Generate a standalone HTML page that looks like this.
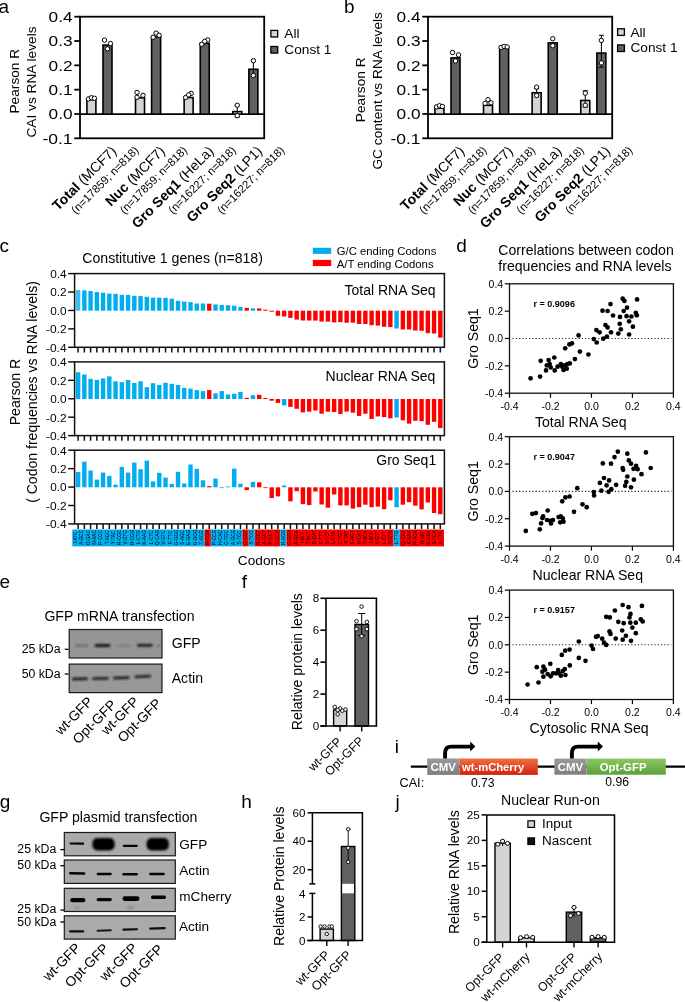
<!DOCTYPE html>
<html><head><meta charset="utf-8"><style>
html,body{margin:0;padding:0;background:#fff;}
svg{display:block;font-family:"Liberation Sans", sans-serif;will-change:transform;}
</style></head><body>
<svg width="685" height="1002" viewBox="0 0 685 1002">
<rect width="685" height="1002" fill="#fff"/>
<text x="-1.50" y="12.90" font-size="19" text-anchor="start" fill="#000">a</text>
<text x="0.00" y="0.00" font-size="13.7" text-anchor="middle" fill="#000" transform="translate(19.00,81.20) rotate(-90)">Pearson R</text>
<text x="0.00" y="0.00" font-size="13.7" text-anchor="middle" fill="#000" transform="translate(35.90,82.00) rotate(-90)">CAI vs RNA levels</text>
<line x1="74.30" y1="16.70" x2="80.00" y2="16.70" stroke="#000" stroke-width="1.8"/>
<text x="72.60" y="22.00" font-size="14.6" text-anchor="end" fill="#000" textLength="24.0" lengthAdjust="spacingAndGlyphs">0.4</text>
<line x1="74.30" y1="41.02" x2="80.00" y2="41.02" stroke="#000" stroke-width="1.8"/>
<text x="72.60" y="46.32" font-size="14.6" text-anchor="end" fill="#000" textLength="24.0" lengthAdjust="spacingAndGlyphs">0.3</text>
<line x1="74.30" y1="65.34" x2="80.00" y2="65.34" stroke="#000" stroke-width="1.8"/>
<text x="72.60" y="70.64" font-size="14.6" text-anchor="end" fill="#000" textLength="24.0" lengthAdjust="spacingAndGlyphs">0.2</text>
<line x1="74.30" y1="89.66" x2="80.00" y2="89.66" stroke="#000" stroke-width="1.8"/>
<text x="72.60" y="94.96" font-size="14.6" text-anchor="end" fill="#000" textLength="24.0" lengthAdjust="spacingAndGlyphs">0.1</text>
<line x1="74.30" y1="113.98" x2="80.00" y2="113.98" stroke="#000" stroke-width="1.8"/>
<text x="72.60" y="119.28" font-size="14.6" text-anchor="end" fill="#000" textLength="24.0" lengthAdjust="spacingAndGlyphs">0.0</text>
<line x1="74.30" y1="138.30" x2="80.00" y2="138.30" stroke="#000" stroke-width="1.8"/>
<text x="72.60" y="143.60" font-size="14.6" text-anchor="end" fill="#000" textLength="30.2" lengthAdjust="spacingAndGlyphs">-0.1</text>
<rect x="80.00" y="16.70" width="184.20" height="121.60" fill="none" stroke="#000" stroke-width="1.8"/>
<line x1="80.00" y1="114.20" x2="264.20" y2="114.20" stroke="#000" stroke-width="1.8"/>
<rect x="86.90" y="99.75" width="9.00" height="14.45" fill="#d4d4d4" stroke="#000" stroke-width="1.6"/>
<circle cx="88.40" cy="98.95" r="2.2" fill="#fff" stroke="#000" stroke-width="1"/>
<circle cx="91.40" cy="97.74" r="2.2" fill="#fff" stroke="#000" stroke-width="1"/>
<circle cx="94.40" cy="98.23" r="2.2" fill="#fff" stroke="#000" stroke-width="1"/>
<rect x="103.00" y="45.06" width="9.00" height="69.14" fill="#616161" stroke="#000" stroke-width="1.6"/>
<circle cx="104.50" cy="40.15" r="2.2" fill="#fff" stroke="#000" stroke-width="1"/>
<circle cx="110.50" cy="43.54" r="2.2" fill="#fff" stroke="#000" stroke-width="1"/>
<circle cx="107.50" cy="48.86" r="2.2" fill="#fff" stroke="#000" stroke-width="1"/>
<rect x="135.52" y="97.82" width="9.00" height="16.38" fill="#d4d4d4" stroke="#000" stroke-width="1.6"/>
<circle cx="137.02" cy="92.42" r="2.2" fill="#fff" stroke="#000" stroke-width="1"/>
<circle cx="137.02" cy="97.26" r="2.2" fill="#fff" stroke="#000" stroke-width="1"/>
<circle cx="143.02" cy="95.32" r="2.2" fill="#fff" stroke="#000" stroke-width="1"/>
<rect x="151.62" y="37.08" width="9.00" height="77.12" fill="#616161" stroke="#000" stroke-width="1.6"/>
<circle cx="153.12" cy="37.24" r="2.2" fill="#fff" stroke="#000" stroke-width="1"/>
<circle cx="156.12" cy="33.13" r="2.2" fill="#fff" stroke="#000" stroke-width="1"/>
<circle cx="159.12" cy="35.31" r="2.2" fill="#fff" stroke="#000" stroke-width="1"/>
<rect x="184.14" y="97.58" width="9.00" height="16.62" fill="#d4d4d4" stroke="#000" stroke-width="1.6"/>
<circle cx="185.64" cy="97.50" r="2.2" fill="#fff" stroke="#000" stroke-width="1"/>
<circle cx="191.14" cy="93.39" r="2.2" fill="#fff" stroke="#000" stroke-width="1"/>
<circle cx="188.64" cy="94.84" r="2.2" fill="#fff" stroke="#000" stroke-width="1"/>
<rect x="200.24" y="43.37" width="9.00" height="70.83" fill="#616161" stroke="#000" stroke-width="1.6"/>
<circle cx="201.74" cy="44.26" r="2.2" fill="#fff" stroke="#000" stroke-width="1"/>
<circle cx="207.74" cy="39.91" r="2.2" fill="#fff" stroke="#000" stroke-width="1"/>
<circle cx="204.74" cy="41.36" r="2.2" fill="#fff" stroke="#000" stroke-width="1"/>
<rect x="232.76" y="111.61" width="9.00" height="2.59" fill="#d4d4d4" stroke="#000" stroke-width="1.6"/>
<line x1="237.26" y1="105.73" x2="237.26" y2="117.10" stroke="#000" stroke-width="1"/>
<line x1="234.76" y1="105.73" x2="239.76" y2="105.73" stroke="#000" stroke-width="1"/>
<line x1="234.76" y1="117.10" x2="239.76" y2="117.10" stroke="#000" stroke-width="1"/>
<circle cx="237.26" cy="105.25" r="2.2" fill="#fff" stroke="#000" stroke-width="1"/>
<circle cx="237.26" cy="115.65" r="2.2" fill="#fff" stroke="#000" stroke-width="1"/>
<rect x="248.86" y="69.26" width="9.00" height="44.94" fill="#616161" stroke="#000" stroke-width="1.6"/>
<line x1="253.36" y1="59.75" x2="253.36" y2="76.69" stroke="#000" stroke-width="1"/>
<line x1="250.86" y1="59.75" x2="255.86" y2="59.75" stroke="#000" stroke-width="1"/>
<line x1="250.86" y1="76.69" x2="255.86" y2="76.69" stroke="#000" stroke-width="1"/>
<circle cx="253.36" cy="60.72" r="2.2" fill="#fff" stroke="#000" stroke-width="1"/>
<circle cx="253.36" cy="75.48" r="2.2" fill="#fff" stroke="#000" stroke-width="1"/>
<rect x="270.90" y="30.40" width="6.80" height="6.60" fill="#d4d4d4" stroke="#000" stroke-width="1.3"/>
<rect x="270.90" y="46.50" width="6.80" height="6.60" fill="#616161" stroke="#000" stroke-width="1.3"/>
<text x="284.30" y="38.20" font-size="13.7" text-anchor="start" fill="#000">All</text>
<text x="284.30" y="53.60" font-size="13.7" text-anchor="start" fill="#000">Const 1</text>
<text x="0.00" y="0.00" font-size="14.0" text-anchor="end" fill="#000" transform="translate(117.30,152.00) rotate(-45)"><tspan font-weight="bold">Total</tspan> (MCF7)</text>
<text x="0.00" y="0.00" font-size="11.3" text-anchor="end" fill="#000" transform="translate(139.30,151.00) rotate(-45)">(n=17859; n=818)</text>
<text x="0.00" y="0.00" font-size="14.0" text-anchor="end" fill="#000" transform="translate(165.92,152.00) rotate(-45)"><tspan font-weight="bold">Nuc</tspan> (MCF7)</text>
<text x="0.00" y="0.00" font-size="11.3" text-anchor="end" fill="#000" transform="translate(187.92,151.00) rotate(-45)">(n=17859; n=818)</text>
<text x="0.00" y="0.00" font-size="14.0" text-anchor="end" fill="#000" transform="translate(214.54,152.00) rotate(-45)"><tspan font-weight="bold">Gro Seq1</tspan> (HeLa)</text>
<text x="0.00" y="0.00" font-size="11.3" text-anchor="end" fill="#000" transform="translate(236.54,151.00) rotate(-45)">(n=16227; n=818)</text>
<text x="0.00" y="0.00" font-size="14.0" text-anchor="end" fill="#000" transform="translate(263.16,152.00) rotate(-45)"><tspan font-weight="bold">Gro Seq2</tspan> (LP1)</text>
<text x="0.00" y="0.00" font-size="11.3" text-anchor="end" fill="#000" transform="translate(285.16,151.00) rotate(-45)">(n=16227; n=818)</text>
<text x="343.90" y="12.60" font-size="19" text-anchor="start" fill="#000">b</text>
<text x="0.00" y="0.00" font-size="13.7" text-anchor="middle" fill="#000" transform="translate(364.80,89.80) rotate(-90)">Pearson R</text>
<text x="0.00" y="0.00" font-size="13.7" text-anchor="middle" fill="#000" transform="translate(382.30,90.80) rotate(-90)">GC content vs RNA levels</text>
<line x1="422.30" y1="16.70" x2="428.00" y2="16.70" stroke="#000" stroke-width="1.8"/>
<text x="420.60" y="22.00" font-size="14.6" text-anchor="end" fill="#000" textLength="24.0" lengthAdjust="spacingAndGlyphs">0.4</text>
<line x1="422.30" y1="41.02" x2="428.00" y2="41.02" stroke="#000" stroke-width="1.8"/>
<text x="420.60" y="46.32" font-size="14.6" text-anchor="end" fill="#000" textLength="24.0" lengthAdjust="spacingAndGlyphs">0.3</text>
<line x1="422.30" y1="65.34" x2="428.00" y2="65.34" stroke="#000" stroke-width="1.8"/>
<text x="420.60" y="70.64" font-size="14.6" text-anchor="end" fill="#000" textLength="24.0" lengthAdjust="spacingAndGlyphs">0.2</text>
<line x1="422.30" y1="89.66" x2="428.00" y2="89.66" stroke="#000" stroke-width="1.8"/>
<text x="420.60" y="94.96" font-size="14.6" text-anchor="end" fill="#000" textLength="24.0" lengthAdjust="spacingAndGlyphs">0.1</text>
<line x1="422.30" y1="113.98" x2="428.00" y2="113.98" stroke="#000" stroke-width="1.8"/>
<text x="420.60" y="119.28" font-size="14.6" text-anchor="end" fill="#000" textLength="24.0" lengthAdjust="spacingAndGlyphs">0.0</text>
<line x1="422.30" y1="138.30" x2="428.00" y2="138.30" stroke="#000" stroke-width="1.8"/>
<text x="420.60" y="143.60" font-size="14.6" text-anchor="end" fill="#000" textLength="30.2" lengthAdjust="spacingAndGlyphs">-0.1</text>
<rect x="428.00" y="16.70" width="184.20" height="121.60" fill="none" stroke="#000" stroke-width="1.8"/>
<line x1="428.00" y1="114.20" x2="612.20" y2="114.20" stroke="#000" stroke-width="1.8"/>
<rect x="434.90" y="108.22" width="9.00" height="5.98" fill="#d4d4d4" stroke="#000" stroke-width="1.6"/>
<circle cx="436.40" cy="106.94" r="2.2" fill="#fff" stroke="#000" stroke-width="1"/>
<circle cx="439.40" cy="105.73" r="2.2" fill="#fff" stroke="#000" stroke-width="1"/>
<circle cx="442.40" cy="106.46" r="2.2" fill="#fff" stroke="#000" stroke-width="1"/>
<rect x="451.00" y="57.89" width="9.00" height="56.31" fill="#616161" stroke="#000" stroke-width="1.6"/>
<circle cx="452.50" cy="52.49" r="2.2" fill="#fff" stroke="#000" stroke-width="1"/>
<circle cx="458.50" cy="54.91" r="2.2" fill="#fff" stroke="#000" stroke-width="1"/>
<circle cx="455.50" cy="60.96" r="2.2" fill="#fff" stroke="#000" stroke-width="1"/>
<rect x="483.52" y="105.32" width="9.00" height="8.88" fill="#d4d4d4" stroke="#000" stroke-width="1.6"/>
<circle cx="485.02" cy="103.31" r="2.2" fill="#fff" stroke="#000" stroke-width="1"/>
<circle cx="488.02" cy="99.68" r="2.2" fill="#fff" stroke="#000" stroke-width="1"/>
<circle cx="491.02" cy="102.83" r="2.2" fill="#fff" stroke="#000" stroke-width="1"/>
<rect x="499.62" y="47.72" width="9.00" height="66.48" fill="#616161" stroke="#000" stroke-width="1.6"/>
<circle cx="501.12" cy="47.41" r="2.2" fill="#fff" stroke="#000" stroke-width="1"/>
<circle cx="504.12" cy="46.44" r="2.2" fill="#fff" stroke="#000" stroke-width="1"/>
<circle cx="507.12" cy="46.92" r="2.2" fill="#fff" stroke="#000" stroke-width="1"/>
<rect x="532.14" y="92.74" width="9.00" height="21.46" fill="#d4d4d4" stroke="#000" stroke-width="1.6"/>
<line x1="536.64" y1="88.79" x2="536.64" y2="95.32" stroke="#000" stroke-width="1"/>
<line x1="534.14" y1="88.79" x2="539.14" y2="88.79" stroke="#000" stroke-width="1"/>
<line x1="534.14" y1="95.32" x2="539.14" y2="95.32" stroke="#000" stroke-width="1"/>
<circle cx="536.64" cy="87.10" r="2.2" fill="#fff" stroke="#000" stroke-width="1"/>
<circle cx="536.64" cy="95.57" r="2.2" fill="#fff" stroke="#000" stroke-width="1"/>
<rect x="548.24" y="42.88" width="9.00" height="71.32" fill="#616161" stroke="#000" stroke-width="1.6"/>
<circle cx="552.74" cy="38.70" r="2.2" fill="#fff" stroke="#000" stroke-width="1"/>
<circle cx="552.74" cy="45.71" r="2.2" fill="#fff" stroke="#000" stroke-width="1"/>
<rect x="580.76" y="100.48" width="9.00" height="13.72" fill="#d4d4d4" stroke="#000" stroke-width="1.6"/>
<line x1="585.26" y1="90.73" x2="585.26" y2="106.94" stroke="#000" stroke-width="1"/>
<line x1="582.76" y1="90.73" x2="587.76" y2="90.73" stroke="#000" stroke-width="1"/>
<line x1="582.76" y1="106.94" x2="587.76" y2="106.94" stroke="#000" stroke-width="1"/>
<circle cx="585.26" cy="93.15" r="2.2" fill="#fff" stroke="#000" stroke-width="1"/>
<circle cx="585.26" cy="105.25" r="2.2" fill="#fff" stroke="#000" stroke-width="1"/>
<rect x="596.86" y="53.05" width="9.00" height="61.15" fill="#616161" stroke="#000" stroke-width="1.6"/>
<line x1="601.36" y1="35.31" x2="601.36" y2="67.25" stroke="#000" stroke-width="1"/>
<line x1="598.86" y1="35.31" x2="603.86" y2="35.31" stroke="#000" stroke-width="1"/>
<line x1="598.86" y1="67.25" x2="603.86" y2="67.25" stroke="#000" stroke-width="1"/>
<circle cx="601.36" cy="40.39" r="2.2" fill="#fff" stroke="#000" stroke-width="1"/>
<circle cx="601.36" cy="62.90" r="2.2" fill="#fff" stroke="#000" stroke-width="1"/>
<rect x="617.60" y="28.80" width="6.80" height="6.60" fill="#d4d4d4" stroke="#000" stroke-width="1.3"/>
<rect x="617.60" y="44.90" width="6.80" height="6.60" fill="#616161" stroke="#000" stroke-width="1.3"/>
<text x="630.40" y="36.60" font-size="13.7" text-anchor="start" fill="#000">All</text>
<text x="630.40" y="52.00" font-size="13.7" text-anchor="start" fill="#000">Const 1</text>
<text x="0.00" y="0.00" font-size="14.0" text-anchor="end" fill="#000" transform="translate(465.30,152.00) rotate(-45)"><tspan font-weight="bold">Total</tspan> (MCF7)</text>
<text x="0.00" y="0.00" font-size="11.3" text-anchor="end" fill="#000" transform="translate(487.30,151.00) rotate(-45)">(n=17859; n=818)</text>
<text x="0.00" y="0.00" font-size="14.0" text-anchor="end" fill="#000" transform="translate(513.92,152.00) rotate(-45)"><tspan font-weight="bold">Nuc</tspan> (MCF7)</text>
<text x="0.00" y="0.00" font-size="11.3" text-anchor="end" fill="#000" transform="translate(535.92,151.00) rotate(-45)">(n=17859; n=818)</text>
<text x="0.00" y="0.00" font-size="14.0" text-anchor="end" fill="#000" transform="translate(562.54,152.00) rotate(-45)"><tspan font-weight="bold">Gro Seq1</tspan> (HeLa)</text>
<text x="0.00" y="0.00" font-size="11.3" text-anchor="end" fill="#000" transform="translate(584.54,151.00) rotate(-45)">(n=16227; n=818)</text>
<text x="0.00" y="0.00" font-size="14.0" text-anchor="end" fill="#000" transform="translate(611.16,152.00) rotate(-45)"><tspan font-weight="bold">Gro Seq2</tspan> (LP1)</text>
<text x="0.00" y="0.00" font-size="11.3" text-anchor="end" fill="#000" transform="translate(633.16,151.00) rotate(-45)">(n=16227; n=818)</text>
<text x="-0.40" y="252.10" font-size="19" text-anchor="start" fill="#000">c</text>
<text x="82.30" y="263.40" font-size="14.1" text-anchor="start" fill="#000">Constitutive 1 genes (n=818)</text>
<rect x="312.80" y="247.80" width="18.40" height="6.10" fill="#00aeef"/>
<rect x="312.80" y="259.90" width="18.40" height="6.20" fill="#ff0000"/>
<text x="336.70" y="255.30" font-size="11.35" text-anchor="start" fill="#000">G/C ending Codons</text>
<text x="336.70" y="268.00" font-size="11.35" text-anchor="start" fill="#000">A/T ending Codons</text>
<line x1="68.20" y1="273.60" x2="74.60" y2="273.60" stroke="#000" stroke-width="1.4"/>
<text x="66.60" y="278.00" font-size="10.2" text-anchor="end" fill="#000" textLength="16.4" lengthAdjust="spacingAndGlyphs">0.4</text>
<line x1="68.20" y1="292.03" x2="74.60" y2="292.03" stroke="#000" stroke-width="1.4"/>
<text x="66.60" y="296.43" font-size="10.2" text-anchor="end" fill="#000" textLength="16.4" lengthAdjust="spacingAndGlyphs">0.2</text>
<line x1="68.20" y1="310.46" x2="74.60" y2="310.46" stroke="#000" stroke-width="1.4"/>
<text x="66.60" y="314.86" font-size="10.2" text-anchor="end" fill="#000" textLength="16.4" lengthAdjust="spacingAndGlyphs">0.0</text>
<line x1="68.20" y1="328.89" x2="74.60" y2="328.89" stroke="#000" stroke-width="1.4"/>
<text x="66.60" y="333.29" font-size="10.2" text-anchor="end" fill="#000" textLength="20.6" lengthAdjust="spacingAndGlyphs">-0.2</text>
<line x1="68.20" y1="347.32" x2="74.60" y2="347.32" stroke="#000" stroke-width="1.4"/>
<text x="66.60" y="351.72" font-size="10.2" text-anchor="end" fill="#000" textLength="20.6" lengthAdjust="spacingAndGlyphs">-0.4</text>
<rect x="75.90" y="290.00" width="4.40" height="20.70" fill="#3dbdf0"/>
<rect x="82.15" y="290.30" width="4.40" height="20.40" fill="#00aeef"/>
<rect x="88.39" y="291.00" width="4.40" height="19.70" fill="#00aeef"/>
<rect x="94.64" y="292.00" width="4.40" height="18.70" fill="#00aeef"/>
<rect x="100.88" y="292.70" width="4.40" height="18.00" fill="#00aeef"/>
<rect x="107.12" y="293.60" width="4.40" height="17.10" fill="#00aeef"/>
<rect x="113.37" y="293.80" width="4.40" height="16.90" fill="#00aeef"/>
<rect x="119.62" y="294.80" width="4.40" height="15.90" fill="#00aeef"/>
<rect x="125.86" y="294.90" width="4.40" height="15.80" fill="#00aeef"/>
<rect x="132.11" y="295.80" width="4.40" height="14.90" fill="#00aeef"/>
<rect x="138.35" y="296.10" width="4.40" height="14.60" fill="#00aeef"/>
<rect x="144.60" y="296.80" width="4.40" height="13.90" fill="#00aeef"/>
<rect x="150.84" y="297.60" width="4.40" height="13.10" fill="#00aeef"/>
<rect x="157.09" y="297.70" width="4.40" height="13.00" fill="#00aeef"/>
<rect x="163.33" y="297.90" width="4.40" height="12.80" fill="#00aeef"/>
<rect x="169.57" y="298.70" width="4.40" height="12.00" fill="#00aeef"/>
<rect x="175.82" y="300.80" width="4.40" height="9.90" fill="#00aeef"/>
<rect x="182.06" y="301.60" width="4.40" height="9.10" fill="#00aeef"/>
<rect x="188.31" y="302.10" width="4.40" height="8.60" fill="#00aeef"/>
<rect x="194.56" y="303.50" width="4.40" height="7.20" fill="#00aeef"/>
<rect x="200.80" y="303.50" width="4.40" height="7.20" fill="#00aeef"/>
<rect x="207.05" y="303.70" width="4.40" height="7.00" fill="#ff0000"/>
<rect x="213.29" y="304.40" width="4.40" height="6.30" fill="#00aeef"/>
<rect x="219.53" y="304.90" width="4.40" height="5.80" fill="#00aeef"/>
<rect x="225.78" y="305.20" width="4.40" height="5.50" fill="#00aeef"/>
<rect x="232.03" y="305.70" width="4.40" height="5.00" fill="#00aeef"/>
<rect x="238.27" y="306.90" width="4.40" height="3.80" fill="#00aeef"/>
<rect x="244.52" y="307.90" width="4.40" height="2.80" fill="#ff0000"/>
<rect x="250.76" y="308.30" width="4.40" height="2.40" fill="#00aeef"/>
<rect x="257.00" y="308.40" width="4.40" height="2.30" fill="#ff0000"/>
<rect x="263.25" y="309.70" width="4.40" height="1.00" fill="#ff0000"/>
<rect x="269.50" y="310.70" width="4.40" height="1.00" fill="#ff0000"/>
<rect x="275.74" y="310.70" width="4.40" height="5.10" fill="#ff0000"/>
<rect x="281.99" y="310.70" width="4.40" height="5.80" fill="#ff0000"/>
<rect x="288.23" y="310.70" width="4.40" height="7.20" fill="#ff0000"/>
<rect x="294.48" y="310.70" width="4.40" height="8.90" fill="#ff0000"/>
<rect x="300.72" y="310.70" width="4.40" height="9.80" fill="#ff0000"/>
<rect x="306.97" y="310.70" width="4.40" height="9.80" fill="#ff0000"/>
<rect x="313.21" y="310.70" width="4.40" height="9.90" fill="#ff0000"/>
<rect x="319.46" y="310.70" width="4.40" height="10.90" fill="#ff0000"/>
<rect x="325.70" y="310.70" width="4.40" height="10.90" fill="#ff0000"/>
<rect x="331.95" y="310.70" width="4.40" height="11.70" fill="#ff0000"/>
<rect x="338.19" y="310.70" width="4.40" height="11.50" fill="#ff0000"/>
<rect x="344.44" y="310.70" width="4.40" height="12.00" fill="#ff0000"/>
<rect x="350.68" y="310.70" width="4.40" height="12.00" fill="#ff0000"/>
<rect x="356.92" y="310.70" width="4.40" height="13.30" fill="#ff0000"/>
<rect x="363.17" y="310.70" width="4.40" height="13.30" fill="#ff0000"/>
<rect x="369.41" y="310.70" width="4.40" height="14.50" fill="#ff0000"/>
<rect x="375.66" y="310.70" width="4.40" height="14.90" fill="#ff0000"/>
<rect x="381.90" y="310.70" width="4.40" height="16.10" fill="#ff0000"/>
<rect x="388.15" y="310.70" width="4.40" height="16.40" fill="#ff0000"/>
<rect x="394.39" y="310.70" width="4.40" height="17.80" fill="#00aeef"/>
<rect x="400.64" y="310.70" width="4.40" height="18.80" fill="#ff0000"/>
<rect x="406.88" y="310.70" width="4.40" height="18.80" fill="#ff0000"/>
<rect x="413.13" y="310.70" width="4.40" height="19.80" fill="#ff0000"/>
<rect x="419.38" y="310.70" width="4.40" height="20.10" fill="#ff0000"/>
<rect x="425.62" y="310.70" width="4.40" height="22.50" fill="#ff0000"/>
<rect x="431.87" y="310.70" width="4.40" height="22.80" fill="#ff0000"/>
<rect x="438.11" y="310.70" width="4.40" height="27.00" fill="#ff0000"/>
<rect x="74.60" y="273.60" width="369.80" height="73.70" fill="none" stroke="#111" stroke-width="1.5"/>
<path d="M78.10 347.30V352.50M84.35 347.30V352.50M90.59 347.30V352.50M96.84 347.30V352.50M103.08 347.30V352.50M109.33 347.30V352.50M115.57 347.30V352.50M121.82 347.30V352.50M128.06 347.30V352.50M134.31 347.30V352.50M140.55 347.30V352.50M146.80 347.30V352.50M153.04 347.30V352.50M159.28 347.30V352.50M165.53 347.30V352.50M171.77 347.30V352.50M178.02 347.30V352.50M184.26 347.30V352.50M190.51 347.30V352.50M196.75 347.30V352.50M203.00 347.30V352.50M209.25 347.30V352.50M215.49 347.30V352.50M221.73 347.30V352.50M227.98 347.30V352.50M234.22 347.30V352.50M240.47 347.30V352.50M246.72 347.30V352.50M252.96 347.30V352.50M259.20 347.30V352.50M265.45 347.30V352.50M271.69 347.30V352.50M277.94 347.30V352.50M284.19 347.30V352.50M290.43 347.30V352.50M296.68 347.30V352.50M302.92 347.30V352.50M309.17 347.30V352.50M315.41 347.30V352.50M321.66 347.30V352.50M327.90 347.30V352.50M334.15 347.30V352.50M340.39 347.30V352.50M346.64 347.30V352.50M352.88 347.30V352.50M359.12 347.30V352.50M365.37 347.30V352.50M371.61 347.30V352.50M377.86 347.30V352.50M384.10 347.30V352.50M390.35 347.30V352.50M396.59 347.30V352.50M402.84 347.30V352.50M409.08 347.30V352.50M415.33 347.30V352.50M421.57 347.30V352.50M427.82 347.30V352.50M434.06 347.30V352.50M440.31 347.30V352.50" stroke="#111" stroke-width="1.5" fill="none"/>
<text x="435.60" y="295.00" font-size="14.0" text-anchor="end" fill="#000">Total RNA Seq</text>
<line x1="68.20" y1="361.90" x2="74.60" y2="361.90" stroke="#000" stroke-width="1.4"/>
<text x="66.60" y="366.30" font-size="10.2" text-anchor="end" fill="#000" textLength="16.4" lengthAdjust="spacingAndGlyphs">0.4</text>
<line x1="68.20" y1="380.33" x2="74.60" y2="380.33" stroke="#000" stroke-width="1.4"/>
<text x="66.60" y="384.73" font-size="10.2" text-anchor="end" fill="#000" textLength="16.4" lengthAdjust="spacingAndGlyphs">0.2</text>
<line x1="68.20" y1="398.76" x2="74.60" y2="398.76" stroke="#000" stroke-width="1.4"/>
<text x="66.60" y="403.16" font-size="10.2" text-anchor="end" fill="#000" textLength="16.4" lengthAdjust="spacingAndGlyphs">0.0</text>
<line x1="68.20" y1="417.19" x2="74.60" y2="417.19" stroke="#000" stroke-width="1.4"/>
<text x="66.60" y="421.59" font-size="10.2" text-anchor="end" fill="#000" textLength="20.6" lengthAdjust="spacingAndGlyphs">-0.2</text>
<line x1="68.20" y1="435.62" x2="74.60" y2="435.62" stroke="#000" stroke-width="1.4"/>
<text x="66.60" y="440.02" font-size="10.2" text-anchor="end" fill="#000" textLength="20.6" lengthAdjust="spacingAndGlyphs">-0.4</text>
<rect x="75.90" y="372.30" width="4.40" height="26.70" fill="#00aeef"/>
<rect x="82.15" y="374.50" width="4.40" height="24.50" fill="#00aeef"/>
<rect x="88.39" y="378.90" width="4.40" height="20.10" fill="#00aeef"/>
<rect x="94.64" y="379.90" width="4.40" height="19.10" fill="#00aeef"/>
<rect x="100.88" y="378.40" width="4.40" height="20.60" fill="#00aeef"/>
<rect x="107.12" y="376.40" width="4.40" height="22.60" fill="#00aeef"/>
<rect x="113.37" y="381.30" width="4.40" height="17.70" fill="#00aeef"/>
<rect x="119.62" y="382.20" width="4.40" height="16.80" fill="#00aeef"/>
<rect x="125.86" y="380.00" width="4.40" height="19.00" fill="#00aeef"/>
<rect x="132.11" y="383.00" width="4.40" height="16.00" fill="#00aeef"/>
<rect x="138.35" y="381.30" width="4.40" height="17.70" fill="#00aeef"/>
<rect x="144.60" y="387.20" width="4.40" height="11.80" fill="#00aeef"/>
<rect x="150.84" y="383.20" width="4.40" height="15.80" fill="#00aeef"/>
<rect x="157.09" y="385.00" width="4.40" height="14.00" fill="#00aeef"/>
<rect x="163.33" y="382.80" width="4.40" height="16.20" fill="#00aeef"/>
<rect x="169.57" y="383.80" width="4.40" height="15.20" fill="#00aeef"/>
<rect x="175.82" y="385.00" width="4.40" height="14.00" fill="#00aeef"/>
<rect x="182.06" y="387.90" width="4.40" height="11.10" fill="#00aeef"/>
<rect x="188.31" y="388.60" width="4.40" height="10.40" fill="#00aeef"/>
<rect x="194.56" y="390.10" width="4.40" height="8.90" fill="#00aeef"/>
<rect x="200.80" y="391.10" width="4.40" height="7.90" fill="#00aeef"/>
<rect x="207.05" y="390.10" width="4.40" height="8.90" fill="#ff0000"/>
<rect x="213.29" y="393.30" width="4.40" height="5.70" fill="#00aeef"/>
<rect x="219.53" y="391.10" width="4.40" height="7.90" fill="#00aeef"/>
<rect x="225.78" y="394.50" width="4.40" height="4.50" fill="#00aeef"/>
<rect x="232.03" y="393.70" width="4.40" height="5.30" fill="#00aeef"/>
<rect x="238.27" y="392.00" width="4.40" height="7.00" fill="#00aeef"/>
<rect x="244.52" y="397.80" width="4.40" height="1.20" fill="#ff0000"/>
<rect x="250.76" y="395.20" width="4.40" height="3.80" fill="#00aeef"/>
<rect x="257.00" y="394.90" width="4.40" height="4.10" fill="#ff0000"/>
<rect x="263.25" y="398.00" width="4.40" height="1.00" fill="#ff0000"/>
<rect x="269.50" y="399.00" width="4.40" height="1.70" fill="#ff0000"/>
<rect x="275.74" y="399.00" width="4.40" height="3.90" fill="#ff0000"/>
<rect x="281.99" y="399.00" width="4.40" height="6.40" fill="#00aeef"/>
<rect x="288.23" y="399.00" width="4.40" height="7.90" fill="#ff0000"/>
<rect x="294.48" y="399.00" width="4.40" height="9.80" fill="#ff0000"/>
<rect x="300.72" y="399.00" width="4.40" height="13.40" fill="#ff0000"/>
<rect x="306.97" y="399.00" width="4.40" height="12.70" fill="#ff0000"/>
<rect x="313.21" y="399.00" width="4.40" height="11.50" fill="#ff0000"/>
<rect x="319.46" y="399.00" width="4.40" height="14.70" fill="#ff0000"/>
<rect x="325.70" y="399.00" width="4.40" height="12.70" fill="#ff0000"/>
<rect x="331.95" y="399.00" width="4.40" height="13.00" fill="#ff0000"/>
<rect x="338.19" y="399.00" width="4.40" height="14.90" fill="#ff0000"/>
<rect x="344.44" y="399.00" width="4.40" height="12.60" fill="#ff0000"/>
<rect x="350.68" y="399.00" width="4.40" height="13.70" fill="#ff0000"/>
<rect x="356.92" y="399.00" width="4.40" height="16.90" fill="#ff0000"/>
<rect x="363.17" y="399.00" width="4.40" height="14.70" fill="#ff0000"/>
<rect x="369.41" y="399.00" width="4.40" height="19.90" fill="#ff0000"/>
<rect x="375.66" y="399.00" width="4.40" height="17.40" fill="#ff0000"/>
<rect x="381.90" y="399.00" width="4.40" height="18.10" fill="#ff0000"/>
<rect x="388.15" y="399.00" width="4.40" height="19.30" fill="#ff0000"/>
<rect x="394.39" y="399.00" width="4.40" height="18.50" fill="#00aeef"/>
<rect x="400.64" y="399.00" width="4.40" height="21.30" fill="#ff0000"/>
<rect x="406.88" y="399.00" width="4.40" height="24.70" fill="#ff0000"/>
<rect x="413.13" y="399.00" width="4.40" height="21.80" fill="#ff0000"/>
<rect x="419.38" y="399.00" width="4.40" height="22.20" fill="#ff0000"/>
<rect x="425.62" y="399.00" width="4.40" height="25.80" fill="#ff0000"/>
<rect x="431.87" y="399.00" width="4.40" height="22.80" fill="#ff0000"/>
<rect x="438.11" y="399.00" width="4.40" height="29.10" fill="#ff0000"/>
<rect x="74.60" y="361.90" width="369.80" height="73.70" fill="none" stroke="#111" stroke-width="1.5"/>
<path d="M78.10 435.60V440.80M84.35 435.60V440.80M90.59 435.60V440.80M96.84 435.60V440.80M103.08 435.60V440.80M109.33 435.60V440.80M115.57 435.60V440.80M121.82 435.60V440.80M128.06 435.60V440.80M134.31 435.60V440.80M140.55 435.60V440.80M146.80 435.60V440.80M153.04 435.60V440.80M159.28 435.60V440.80M165.53 435.60V440.80M171.77 435.60V440.80M178.02 435.60V440.80M184.26 435.60V440.80M190.51 435.60V440.80M196.75 435.60V440.80M203.00 435.60V440.80M209.25 435.60V440.80M215.49 435.60V440.80M221.73 435.60V440.80M227.98 435.60V440.80M234.22 435.60V440.80M240.47 435.60V440.80M246.72 435.60V440.80M252.96 435.60V440.80M259.20 435.60V440.80M265.45 435.60V440.80M271.69 435.60V440.80M277.94 435.60V440.80M284.19 435.60V440.80M290.43 435.60V440.80M296.68 435.60V440.80M302.92 435.60V440.80M309.17 435.60V440.80M315.41 435.60V440.80M321.66 435.60V440.80M327.90 435.60V440.80M334.15 435.60V440.80M340.39 435.60V440.80M346.64 435.60V440.80M352.88 435.60V440.80M359.12 435.60V440.80M365.37 435.60V440.80M371.61 435.60V440.80M377.86 435.60V440.80M384.10 435.60V440.80M390.35 435.60V440.80M396.59 435.60V440.80M402.84 435.60V440.80M409.08 435.60V440.80M415.33 435.60V440.80M421.57 435.60V440.80M427.82 435.60V440.80M434.06 435.60V440.80M440.31 435.60V440.80" stroke="#111" stroke-width="1.5" fill="none"/>
<text x="435.30" y="380.80" font-size="14.0" text-anchor="end" fill="#000">Nuclear RNA Seq</text>
<line x1="68.20" y1="450.20" x2="74.60" y2="450.20" stroke="#000" stroke-width="1.4"/>
<text x="66.60" y="454.60" font-size="10.2" text-anchor="end" fill="#000" textLength="16.4" lengthAdjust="spacingAndGlyphs">0.4</text>
<line x1="68.20" y1="468.63" x2="74.60" y2="468.63" stroke="#000" stroke-width="1.4"/>
<text x="66.60" y="473.03" font-size="10.2" text-anchor="end" fill="#000" textLength="16.4" lengthAdjust="spacingAndGlyphs">0.2</text>
<line x1="68.20" y1="487.06" x2="74.60" y2="487.06" stroke="#000" stroke-width="1.4"/>
<text x="66.60" y="491.46" font-size="10.2" text-anchor="end" fill="#000" textLength="16.4" lengthAdjust="spacingAndGlyphs">0.0</text>
<line x1="68.20" y1="505.49" x2="74.60" y2="505.49" stroke="#000" stroke-width="1.4"/>
<text x="66.60" y="509.89" font-size="10.2" text-anchor="end" fill="#000" textLength="20.6" lengthAdjust="spacingAndGlyphs">-0.2</text>
<line x1="68.20" y1="523.92" x2="74.60" y2="523.92" stroke="#000" stroke-width="1.4"/>
<text x="66.60" y="528.32" font-size="10.2" text-anchor="end" fill="#000" textLength="20.6" lengthAdjust="spacingAndGlyphs">-0.4</text>
<rect x="75.90" y="472.00" width="4.40" height="15.30" fill="#00aeef"/>
<rect x="82.15" y="461.60" width="4.40" height="25.70" fill="#00aeef"/>
<rect x="88.39" y="470.50" width="4.40" height="16.80" fill="#00aeef"/>
<rect x="94.64" y="479.60" width="4.40" height="7.70" fill="#00aeef"/>
<rect x="100.88" y="472.60" width="4.40" height="14.70" fill="#00aeef"/>
<rect x="107.12" y="475.90" width="4.40" height="11.40" fill="#00aeef"/>
<rect x="113.37" y="484.70" width="4.40" height="2.60" fill="#00aeef"/>
<rect x="119.62" y="466.90" width="4.40" height="20.40" fill="#00aeef"/>
<rect x="125.86" y="472.60" width="4.40" height="14.70" fill="#00aeef"/>
<rect x="132.11" y="462.60" width="4.40" height="24.70" fill="#00aeef"/>
<rect x="138.35" y="469.20" width="4.40" height="18.10" fill="#00aeef"/>
<rect x="144.60" y="460.60" width="4.40" height="26.70" fill="#00aeef"/>
<rect x="150.84" y="481.40" width="4.40" height="5.90" fill="#00aeef"/>
<rect x="157.09" y="472.80" width="4.40" height="14.50" fill="#00aeef"/>
<rect x="163.33" y="477.60" width="4.40" height="9.70" fill="#00aeef"/>
<rect x="169.57" y="483.90" width="4.40" height="3.40" fill="#00aeef"/>
<rect x="175.82" y="471.80" width="4.40" height="15.50" fill="#00aeef"/>
<rect x="182.06" y="483.50" width="4.40" height="3.80" fill="#00aeef"/>
<rect x="188.31" y="464.50" width="4.40" height="22.80" fill="#00aeef"/>
<rect x="194.56" y="468.90" width="4.40" height="18.40" fill="#00aeef"/>
<rect x="200.80" y="480.30" width="4.40" height="7.00" fill="#00aeef"/>
<rect x="207.05" y="486.10" width="4.40" height="1.20" fill="#ff0000"/>
<rect x="213.29" y="478.60" width="4.40" height="8.70" fill="#00aeef"/>
<rect x="219.53" y="487.30" width="4.40" height="0.80" fill="#00aeef"/>
<rect x="225.78" y="486.50" width="4.40" height="0.80" fill="#00aeef"/>
<rect x="232.03" y="468.60" width="4.40" height="18.70" fill="#00aeef"/>
<rect x="238.27" y="483.80" width="4.40" height="3.50" fill="#00aeef"/>
<rect x="244.52" y="487.30" width="4.40" height="2.80" fill="#ff0000"/>
<rect x="250.76" y="481.80" width="4.40" height="5.50" fill="#00aeef"/>
<rect x="257.00" y="482.30" width="4.40" height="5.00" fill="#ff0000"/>
<rect x="263.25" y="487.30" width="4.40" height="0.80" fill="#ff0000"/>
<rect x="269.50" y="487.30" width="4.40" height="10.80" fill="#ff0000"/>
<rect x="275.74" y="487.30" width="4.40" height="9.10" fill="#ff0000"/>
<rect x="281.99" y="485.50" width="4.40" height="1.80" fill="#00aeef"/>
<rect x="288.23" y="487.30" width="4.40" height="14.00" fill="#ff0000"/>
<rect x="294.48" y="487.30" width="4.40" height="3.80" fill="#ff0000"/>
<rect x="300.72" y="487.30" width="4.40" height="16.90" fill="#ff0000"/>
<rect x="306.97" y="487.30" width="4.40" height="17.80" fill="#ff0000"/>
<rect x="313.21" y="487.30" width="4.40" height="4.20" fill="#ff0000"/>
<rect x="319.46" y="487.30" width="4.40" height="17.20" fill="#ff0000"/>
<rect x="325.70" y="487.30" width="4.40" height="20.40" fill="#ff0000"/>
<rect x="331.95" y="487.30" width="4.40" height="7.20" fill="#ff0000"/>
<rect x="338.19" y="487.30" width="4.40" height="18.10" fill="#ff0000"/>
<rect x="344.44" y="487.30" width="4.40" height="18.10" fill="#ff0000"/>
<rect x="350.68" y="487.30" width="4.40" height="21.30" fill="#ff0000"/>
<rect x="356.92" y="487.30" width="4.40" height="19.90" fill="#ff0000"/>
<rect x="363.17" y="487.30" width="4.40" height="17.40" fill="#ff0000"/>
<rect x="369.41" y="487.30" width="4.40" height="19.90" fill="#ff0000"/>
<rect x="375.66" y="487.30" width="4.40" height="19.30" fill="#ff0000"/>
<rect x="381.90" y="487.30" width="4.40" height="21.90" fill="#ff0000"/>
<rect x="388.15" y="487.30" width="4.40" height="13.00" fill="#ff0000"/>
<rect x="394.39" y="487.30" width="4.40" height="19.90" fill="#00aeef"/>
<rect x="400.64" y="487.30" width="4.40" height="17.40" fill="#ff0000"/>
<rect x="406.88" y="487.30" width="4.40" height="14.90" fill="#ff0000"/>
<rect x="413.13" y="487.30" width="4.40" height="18.40" fill="#ff0000"/>
<rect x="419.38" y="487.30" width="4.40" height="22.10" fill="#ff0000"/>
<rect x="425.62" y="487.30" width="4.40" height="15.20" fill="#ff0000"/>
<rect x="431.87" y="487.30" width="4.40" height="25.70" fill="#ff0000"/>
<rect x="438.11" y="487.30" width="4.40" height="26.90" fill="#ff0000"/>
<rect x="74.60" y="450.20" width="369.80" height="73.70" fill="none" stroke="#111" stroke-width="1.5"/>
<path d="M78.10 523.90V529.10M84.35 523.90V529.10M90.59 523.90V529.10M96.84 523.90V529.10M103.08 523.90V529.10M109.33 523.90V529.10M115.57 523.90V529.10M121.82 523.90V529.10M128.06 523.90V529.10M134.31 523.90V529.10M140.55 523.90V529.10M146.80 523.90V529.10M153.04 523.90V529.10M159.28 523.90V529.10M165.53 523.90V529.10M171.77 523.90V529.10M178.02 523.90V529.10M184.26 523.90V529.10M190.51 523.90V529.10M196.75 523.90V529.10M203.00 523.90V529.10M209.25 523.90V529.10M215.49 523.90V529.10M221.73 523.90V529.10M227.98 523.90V529.10M234.22 523.90V529.10M240.47 523.90V529.10M246.72 523.90V529.10M252.96 523.90V529.10M259.20 523.90V529.10M265.45 523.90V529.10M271.69 523.90V529.10M277.94 523.90V529.10M284.19 523.90V529.10M290.43 523.90V529.10M296.68 523.90V529.10M302.92 523.90V529.10M309.17 523.90V529.10M315.41 523.90V529.10M321.66 523.90V529.10M327.90 523.90V529.10M334.15 523.90V529.10M340.39 523.90V529.10M346.64 523.90V529.10M352.88 523.90V529.10M359.12 523.90V529.10M365.37 523.90V529.10M371.61 523.90V529.10M377.86 523.90V529.10M384.10 523.90V529.10M390.35 523.90V529.10M396.59 523.90V529.10M402.84 523.90V529.10M409.08 523.90V529.10M415.33 523.90V529.10M421.57 523.90V529.10M427.82 523.90V529.10M434.06 523.90V529.10M440.31 523.90V529.10" stroke="#111" stroke-width="1.5" fill="none"/>
<text x="436.20" y="465.10" font-size="14.0" text-anchor="end" fill="#000">Gro Seq1</text>
<text x="0.00" y="0.00" font-size="14.1" text-anchor="middle" fill="#000" transform="translate(20.00,392.00) rotate(-90)">Pearson R</text>
<text x="0.00" y="0.00" font-size="14.05" text-anchor="middle" fill="#000" transform="translate(37.00,392.00) rotate(-90)">( Codon frequencies vs RNA levels)</text>
<rect x="72.30" y="529.50" width="132.30" height="16.90" fill="#00aeef"/>
<rect x="204.60" y="529.50" width="6.30" height="16.90" fill="#ff0000"/>
<rect x="210.90" y="529.50" width="31.50" height="16.90" fill="#00aeef"/>
<rect x="242.40" y="529.50" width="6.30" height="16.90" fill="#ff0000"/>
<rect x="248.70" y="529.50" width="6.30" height="16.90" fill="#00aeef"/>
<rect x="255.00" y="529.50" width="25.20" height="16.90" fill="#ff0000"/>
<rect x="280.20" y="529.50" width="6.30" height="16.90" fill="#00aeef"/>
<rect x="286.50" y="529.50" width="107.10" height="16.90" fill="#ff0000"/>
<rect x="393.60" y="529.50" width="6.30" height="16.90" fill="#00aeef"/>
<rect x="399.90" y="529.50" width="44.10" height="16.90" fill="#ff0000"/>
<text x="0.00" y="0.00" font-size="4.6" text-anchor="middle" fill="#000" transform="translate(77.00,537.40) rotate(-90)">I-ATC</text>
<text x="0.00" y="0.00" font-size="4.6" text-anchor="middle" fill="#000" transform="translate(83.30,537.40) rotate(-90)">A-GCC</text>
<text x="0.00" y="0.00" font-size="4.6" text-anchor="middle" fill="#000" transform="translate(89.60,537.40) rotate(-90)">D-GAC</text>
<text x="0.00" y="0.00" font-size="4.6" text-anchor="middle" fill="#000" transform="translate(95.90,537.40) rotate(-90)">N-AAC</text>
<text x="0.00" y="0.00" font-size="4.6" text-anchor="middle" fill="#000" transform="translate(102.20,537.40) rotate(-90)">P-CCC</text>
<text x="0.00" y="0.00" font-size="4.6" text-anchor="middle" fill="#000" transform="translate(108.50,537.40) rotate(-90)">T-ACC</text>
<text x="0.00" y="0.00" font-size="4.6" text-anchor="middle" fill="#000" transform="translate(114.80,537.40) rotate(-90)">Y-TAC</text>
<text x="0.00" y="0.00" font-size="4.6" text-anchor="middle" fill="#000" transform="translate(121.10,537.40) rotate(-90)">R-CGC</text>
<text x="0.00" y="0.00" font-size="4.6" text-anchor="middle" fill="#000" transform="translate(127.40,537.40) rotate(-90)">V-GTG</text>
<text x="0.00" y="0.00" font-size="4.6" text-anchor="middle" fill="#000" transform="translate(133.70,537.40) rotate(-90)">R-CGG</text>
<text x="0.00" y="0.00" font-size="4.6" text-anchor="middle" fill="#000" transform="translate(140.00,537.40) rotate(-90)">L-CTG</text>
<text x="0.00" y="0.00" font-size="4.6" text-anchor="middle" fill="#000" transform="translate(146.30,537.40) rotate(-90)">K-AAG</text>
<text x="0.00" y="0.00" font-size="4.6" text-anchor="middle" fill="#000" transform="translate(152.60,537.40) rotate(-90)">L-CTC</text>
<text x="0.00" y="0.00" font-size="4.6" text-anchor="middle" fill="#000" transform="translate(158.90,537.40) rotate(-90)">Q-CAG</text>
<text x="0.00" y="0.00" font-size="4.6" text-anchor="middle" fill="#000" transform="translate(165.20,537.40) rotate(-90)">V-GTC</text>
<text x="0.00" y="0.00" font-size="4.6" text-anchor="middle" fill="#000" transform="translate(171.50,537.40) rotate(-90)">F-TTC</text>
<text x="0.00" y="0.00" font-size="4.6" text-anchor="middle" fill="#000" transform="translate(177.80,537.40) rotate(-90)">G-GGC</text>
<text x="0.00" y="0.00" font-size="4.6" text-anchor="middle" fill="#000" transform="translate(184.10,537.40) rotate(-90)">S-AGC</text>
<text x="0.00" y="0.00" font-size="4.6" text-anchor="middle" fill="#000" transform="translate(190.40,537.40) rotate(-90)">E-GAG</text>
<text x="0.00" y="0.00" font-size="4.6" text-anchor="middle" fill="#000" transform="translate(196.70,537.40) rotate(-90)">G-GGG</text>
<text x="0.00" y="0.00" font-size="4.6" text-anchor="middle" fill="#000" transform="translate(203.00,537.40) rotate(-90)">T-ACG</text>
<text x="0.00" y="0.00" font-size="4.6" text-anchor="middle" fill="#000" transform="translate(209.30,537.40) rotate(-90)">R-CGA</text>
<text x="0.00" y="0.00" font-size="4.6" text-anchor="middle" fill="#000" transform="translate(215.60,537.40) rotate(-90)">P-CCG</text>
<text x="0.00" y="0.00" font-size="4.6" text-anchor="middle" fill="#000" transform="translate(221.90,537.40) rotate(-90)">H-CAC</text>
<text x="0.00" y="0.00" font-size="4.6" text-anchor="middle" fill="#000" transform="translate(228.20,537.40) rotate(-90)">C-TGC</text>
<text x="0.00" y="0.00" font-size="4.6" text-anchor="middle" fill="#000" transform="translate(234.50,537.40) rotate(-90)">A-GCG</text>
<text x="0.00" y="0.00" font-size="4.6" text-anchor="middle" fill="#000" transform="translate(240.80,537.40) rotate(-90)">S-TCC</text>
<text x="0.00" y="0.00" font-size="4.6" text-anchor="middle" fill="#000" transform="translate(247.10,537.40) rotate(-90)">G-GGT</text>
<text x="0.00" y="0.00" font-size="4.6" text-anchor="middle" fill="#000" transform="translate(253.40,537.40) rotate(-90)">S-TCG</text>
<text x="0.00" y="0.00" font-size="4.6" text-anchor="middle" fill="#000" transform="translate(259.70,537.40) rotate(-90)">R-CGT</text>
<text x="0.00" y="0.00" font-size="4.6" text-anchor="middle" fill="#000" transform="translate(266.00,537.40) rotate(-90)">A-GCT</text>
<text x="0.00" y="0.00" font-size="4.6" text-anchor="middle" fill="#000" transform="translate(272.30,537.40) rotate(-90)">P-CCT</text>
<text x="0.00" y="0.00" font-size="4.6" text-anchor="middle" fill="#000" transform="translate(278.60,537.40) rotate(-90)">P-CCA</text>
<text x="0.00" y="0.00" font-size="4.6" text-anchor="middle" fill="#000" transform="translate(284.90,537.40) rotate(-90)">R-AGG</text>
<text x="0.00" y="0.00" font-size="4.6" text-anchor="middle" fill="#000" transform="translate(291.20,537.40) rotate(-90)">G-GGA</text>
<text x="0.00" y="0.00" font-size="4.6" text-anchor="middle" fill="#000" transform="translate(297.50,537.40) rotate(-90)">A-GCA</text>
<text x="0.00" y="0.00" font-size="4.6" text-anchor="middle" fill="#000" transform="translate(303.80,537.40) rotate(-90)">I-ATT</text>
<text x="0.00" y="0.00" font-size="4.6" text-anchor="middle" fill="#000" transform="translate(310.10,537.40) rotate(-90)">T-ACT</text>
<text x="0.00" y="0.00" font-size="4.6" text-anchor="middle" fill="#000" transform="translate(316.40,537.40) rotate(-90)">D-GAT</text>
<text x="0.00" y="0.00" font-size="4.6" text-anchor="middle" fill="#000" transform="translate(322.70,537.40) rotate(-90)">F-TTT</text>
<text x="0.00" y="0.00" font-size="4.6" text-anchor="middle" fill="#000" transform="translate(329.00,537.40) rotate(-90)">S-TCT</text>
<text x="0.00" y="0.00" font-size="4.6" text-anchor="middle" fill="#000" transform="translate(335.30,537.40) rotate(-90)">L-CTA</text>
<text x="0.00" y="0.00" font-size="4.6" text-anchor="middle" fill="#000" transform="translate(341.60,537.40) rotate(-90)">C-TGT</text>
<text x="0.00" y="0.00" font-size="4.6" text-anchor="middle" fill="#000" transform="translate(347.90,537.40) rotate(-90)">Y-TAT</text>
<text x="0.00" y="0.00" font-size="4.6" text-anchor="middle" fill="#000" transform="translate(354.20,537.40) rotate(-90)">S-AGT</text>
<text x="0.00" y="0.00" font-size="4.6" text-anchor="middle" fill="#000" transform="translate(360.50,537.40) rotate(-90)">H-CAT</text>
<text x="0.00" y="0.00" font-size="4.6" text-anchor="middle" fill="#000" transform="translate(366.80,537.40) rotate(-90)">T-ACA</text>
<text x="0.00" y="0.00" font-size="4.6" text-anchor="middle" fill="#000" transform="translate(373.10,537.40) rotate(-90)">I-ATA</text>
<text x="0.00" y="0.00" font-size="4.6" text-anchor="middle" fill="#000" transform="translate(379.40,537.40) rotate(-90)">V-GTT</text>
<text x="0.00" y="0.00" font-size="4.6" text-anchor="middle" fill="#000" transform="translate(385.70,537.40) rotate(-90)">L-CTT</text>
<text x="0.00" y="0.00" font-size="4.6" text-anchor="middle" fill="#000" transform="translate(392.00,537.40) rotate(-90)">V-GTA</text>
<text x="0.00" y="0.00" font-size="4.6" text-anchor="middle" fill="#000" transform="translate(398.30,537.40) rotate(-90)">L-TTG</text>
<text x="0.00" y="0.00" font-size="4.6" text-anchor="middle" fill="#000" transform="translate(404.60,537.40) rotate(-90)">Q-CAA</text>
<text x="0.00" y="0.00" font-size="4.6" text-anchor="middle" fill="#000" transform="translate(410.90,537.40) rotate(-90)">K-AAA</text>
<text x="0.00" y="0.00" font-size="4.6" text-anchor="middle" fill="#000" transform="translate(417.20,537.40) rotate(-90)">R-AGA</text>
<text x="0.00" y="0.00" font-size="4.6" text-anchor="middle" fill="#000" transform="translate(423.50,537.40) rotate(-90)">N-AAT</text>
<text x="0.00" y="0.00" font-size="4.6" text-anchor="middle" fill="#000" transform="translate(429.80,537.40) rotate(-90)">E-GAA</text>
<text x="0.00" y="0.00" font-size="4.6" text-anchor="middle" fill="#000" transform="translate(436.10,537.40) rotate(-90)">S-TCA</text>
<text x="0.00" y="0.00" font-size="4.6" text-anchor="middle" fill="#000" transform="translate(442.40,537.40) rotate(-90)">L-TTA</text>
<text x="237.80" y="564.60" font-size="13.7" text-anchor="start" fill="#000">Codons</text>
<text x="456.20" y="251.90" font-size="19" text-anchor="start" fill="#000">d</text>
<text x="498.30" y="255.30" font-size="14.1" text-anchor="start" fill="#000">Correlations between codon</text>
<text x="498.30" y="271.20" font-size="14.1" text-anchor="start" fill="#000">frequencies and RNA levels</text>
<line x1="504.80" y1="283.80" x2="509.50" y2="283.80" stroke="#000" stroke-width="1.2"/>
<text x="503.20" y="287.60" font-size="10.5" text-anchor="end" fill="#000">0.4</text>
<line x1="504.80" y1="311.15" x2="509.50" y2="311.15" stroke="#000" stroke-width="1.2"/>
<text x="503.20" y="314.95" font-size="10.5" text-anchor="end" fill="#000">0.2</text>
<line x1="504.80" y1="338.50" x2="509.50" y2="338.50" stroke="#000" stroke-width="1.2"/>
<text x="503.20" y="342.30" font-size="10.5" text-anchor="end" fill="#000">0.0</text>
<line x1="504.80" y1="365.85" x2="509.50" y2="365.85" stroke="#000" stroke-width="1.2"/>
<text x="503.20" y="369.65" font-size="10.5" text-anchor="end" fill="#000">-0.2</text>
<line x1="504.80" y1="393.20" x2="509.50" y2="393.20" stroke="#000" stroke-width="1.2"/>
<text x="503.20" y="397.00" font-size="10.5" text-anchor="end" fill="#000">-0.4</text>
<line x1="509.50" y1="393.20" x2="509.50" y2="397.80" stroke="#000" stroke-width="1.2"/>
<text x="509.50" y="409.60" font-size="10.5" text-anchor="middle" fill="#000">-0.4</text>
<line x1="550.47" y1="393.20" x2="550.47" y2="397.80" stroke="#000" stroke-width="1.2"/>
<text x="550.47" y="409.60" font-size="10.5" text-anchor="middle" fill="#000">-0.2</text>
<line x1="591.44" y1="393.20" x2="591.44" y2="397.80" stroke="#000" stroke-width="1.2"/>
<text x="591.44" y="409.60" font-size="10.5" text-anchor="middle" fill="#000">0.0</text>
<line x1="632.41" y1="393.20" x2="632.41" y2="397.80" stroke="#000" stroke-width="1.2"/>
<text x="632.41" y="409.60" font-size="10.5" text-anchor="middle" fill="#000">0.2</text>
<line x1="673.38" y1="393.20" x2="673.38" y2="397.80" stroke="#000" stroke-width="1.2"/>
<text x="673.38" y="409.60" font-size="10.5" text-anchor="middle" fill="#000">0.4</text>
<rect x="509.5" y="283.80" width="163.90" height="109.40" fill="none" stroke="#111" stroke-width="1.3"/>
<line x1="512.50" y1="338.50" x2="671.40" y2="338.50" stroke="#222" stroke-width="1.1" stroke-dasharray="1.2 2.1"/>
<g fill="#000"><circle cx="530.6" cy="378.3" r="2.35"/><circle cx="540.1" cy="376.6" r="2.35"/><circle cx="540.7" cy="360.8" r="2.35"/><circle cx="546.0" cy="370.4" r="2.35"/><circle cx="546.8" cy="365.4" r="2.35"/><circle cx="548.6" cy="360.1" r="2.35"/><circle cx="549.7" cy="364.1" r="2.35"/><circle cx="550.7" cy="367.4" r="2.35"/><circle cx="554.3" cy="357.5" r="2.35"/><circle cx="554.7" cy="370.4" r="2.35"/><circle cx="557.6" cy="366.7" r="2.35"/><circle cx="560.8" cy="364.1" r="2.35"/><circle cx="562.2" cy="366.7" r="2.35"/><circle cx="563.5" cy="370.0" r="2.35"/><circle cx="564.8" cy="365.4" r="2.35"/><circle cx="566.8" cy="368.7" r="2.35"/><circle cx="567.4" cy="364.1" r="2.35"/><circle cx="569.8" cy="363.4" r="2.35"/><circle cx="565.2" cy="348.3" r="2.35"/><circle cx="569.4" cy="344.4" r="2.35"/><circle cx="572.0" cy="343.3" r="2.35"/><circle cx="574.9" cy="359.1" r="2.35"/><circle cx="578.6" cy="335.4" r="2.35"/><circle cx="579.9" cy="351.6" r="2.35"/><circle cx="588.4" cy="354.5" r="2.35"/><circle cx="593.8" cy="339.1" r="2.35"/><circle cx="596.7" cy="342.5" r="2.35"/><circle cx="596.4" cy="330.1" r="2.35"/><circle cx="599.6" cy="332.3" r="2.35"/><circle cx="602.5" cy="310.7" r="2.35"/><circle cx="603.2" cy="338.7" r="2.35"/><circle cx="605.4" cy="325.0" r="2.35"/><circle cx="606.9" cy="336.6" r="2.35"/><circle cx="607.6" cy="327.4" r="2.35"/><circle cx="607.6" cy="311.0" r="2.35"/><circle cx="610.5" cy="304.1" r="2.35"/><circle cx="611.0" cy="332.3" r="2.35"/><circle cx="613.0" cy="315.5" r="2.35"/><circle cx="618.3" cy="333.6" r="2.35"/><circle cx="619.7" cy="323.8" r="2.35"/><circle cx="620.0" cy="316.9" r="2.35"/><circle cx="620.8" cy="329.3" r="2.35"/><circle cx="622.7" cy="298.7" r="2.35"/><circle cx="624.4" cy="300.9" r="2.35"/><circle cx="623.7" cy="311.0" r="2.35"/><circle cx="627.0" cy="307.7" r="2.35"/><circle cx="626.6" cy="316.2" r="2.35"/><circle cx="629.1" cy="321.3" r="2.35"/><circle cx="629.1" cy="334.5" r="2.35"/><circle cx="631.4" cy="316.5" r="2.35"/><circle cx="632.9" cy="326.7" r="2.35"/><circle cx="635.8" cy="312.8" r="2.35"/><circle cx="636.8" cy="315.3" r="2.35"/><circle cx="637.1" cy="299.4" r="2.35"/></g>
<text x="533.60" y="307.00" font-size="9" text-anchor="start" font-weight="bold" fill="#000">r = 0.9096</text>
<text x="0.00" y="0.00" font-size="14.1" text-anchor="middle" fill="#000" transform="translate(478.30,338.50) rotate(-90)">Gro Seq1</text>
<text x="534.90" y="426.70" font-size="14.1" text-anchor="start" fill="#000">Total RNA Seq</text>
<line x1="504.80" y1="436.70" x2="509.50" y2="436.70" stroke="#000" stroke-width="1.2"/>
<text x="503.20" y="440.50" font-size="10.5" text-anchor="end" fill="#000">0.4</text>
<line x1="504.80" y1="464.05" x2="509.50" y2="464.05" stroke="#000" stroke-width="1.2"/>
<text x="503.20" y="467.85" font-size="10.5" text-anchor="end" fill="#000">0.2</text>
<line x1="504.80" y1="491.40" x2="509.50" y2="491.40" stroke="#000" stroke-width="1.2"/>
<text x="503.20" y="495.20" font-size="10.5" text-anchor="end" fill="#000">0.0</text>
<line x1="504.80" y1="518.75" x2="509.50" y2="518.75" stroke="#000" stroke-width="1.2"/>
<text x="503.20" y="522.55" font-size="10.5" text-anchor="end" fill="#000">-0.2</text>
<line x1="504.80" y1="546.10" x2="509.50" y2="546.10" stroke="#000" stroke-width="1.2"/>
<text x="503.20" y="549.90" font-size="10.5" text-anchor="end" fill="#000">-0.4</text>
<line x1="509.50" y1="546.10" x2="509.50" y2="550.70" stroke="#000" stroke-width="1.2"/>
<text x="509.50" y="562.50" font-size="10.5" text-anchor="middle" fill="#000">-0.4</text>
<line x1="550.47" y1="546.10" x2="550.47" y2="550.70" stroke="#000" stroke-width="1.2"/>
<text x="550.47" y="562.50" font-size="10.5" text-anchor="middle" fill="#000">-0.2</text>
<line x1="591.44" y1="546.10" x2="591.44" y2="550.70" stroke="#000" stroke-width="1.2"/>
<text x="591.44" y="562.50" font-size="10.5" text-anchor="middle" fill="#000">0.0</text>
<line x1="632.41" y1="546.10" x2="632.41" y2="550.70" stroke="#000" stroke-width="1.2"/>
<text x="632.41" y="562.50" font-size="10.5" text-anchor="middle" fill="#000">0.2</text>
<line x1="673.38" y1="546.10" x2="673.38" y2="550.70" stroke="#000" stroke-width="1.2"/>
<text x="673.38" y="562.50" font-size="10.5" text-anchor="middle" fill="#000">0.4</text>
<rect x="509.5" y="436.70" width="163.90" height="109.40" fill="none" stroke="#111" stroke-width="1.3"/>
<line x1="512.50" y1="491.40" x2="671.40" y2="491.40" stroke="#222" stroke-width="1.1" stroke-dasharray="1.2 2.1"/>
<g fill="#000"><circle cx="525.8" cy="530.9" r="2.35"/><circle cx="539.8" cy="529.3" r="2.35"/><circle cx="532.3" cy="513.8" r="2.35"/><circle cx="535.9" cy="513.1" r="2.35"/><circle cx="541.1" cy="523.4" r="2.35"/><circle cx="542.4" cy="518.1" r="2.35"/><circle cx="543.1" cy="516.4" r="2.35"/><circle cx="547.7" cy="510.5" r="2.35"/><circle cx="547.0" cy="520.0" r="2.35"/><circle cx="550.3" cy="520.8" r="2.35"/><circle cx="551.0" cy="523.4" r="2.35"/><circle cx="553.0" cy="520.0" r="2.35"/><circle cx="558.6" cy="517.1" r="2.35"/><circle cx="560.2" cy="522.3" r="2.35"/><circle cx="560.8" cy="516.4" r="2.35"/><circle cx="562.8" cy="518.4" r="2.35"/><circle cx="563.5" cy="521.7" r="2.35"/><circle cx="562.2" cy="501.3" r="2.35"/><circle cx="565.4" cy="497.4" r="2.35"/><circle cx="569.6" cy="496.5" r="2.35"/><circle cx="574.0" cy="511.8" r="2.35"/><circle cx="577.3" cy="488.2" r="2.35"/><circle cx="582.5" cy="504.3" r="2.35"/><circle cx="586.7" cy="507.2" r="2.35"/><circle cx="593.8" cy="492.1" r="2.35"/><circle cx="594.1" cy="495.5" r="2.35"/><circle cx="599.9" cy="482.9" r="2.35"/><circle cx="601.4" cy="490.7" r="2.35"/><circle cx="602.8" cy="463.4" r="2.35"/><circle cx="604.0" cy="478.0" r="2.35"/><circle cx="606.6" cy="485.3" r="2.35"/><circle cx="608.6" cy="491.8" r="2.35"/><circle cx="609.1" cy="480.4" r="2.35"/><circle cx="611.0" cy="463.7" r="2.35"/><circle cx="611.3" cy="489.2" r="2.35"/><circle cx="614.5" cy="457.1" r="2.35"/><circle cx="616.1" cy="484.8" r="2.35"/><circle cx="617.8" cy="451.7" r="2.35"/><circle cx="622.7" cy="468.0" r="2.35"/><circle cx="623.2" cy="469.8" r="2.35"/><circle cx="625.1" cy="485.8" r="2.35"/><circle cx="626.3" cy="481.9" r="2.35"/><circle cx="627.3" cy="476.5" r="2.35"/><circle cx="627.3" cy="453.7" r="2.35"/><circle cx="628.8" cy="460.4" r="2.35"/><circle cx="631.0" cy="463.7" r="2.35"/><circle cx="631.0" cy="487.3" r="2.35"/><circle cx="633.5" cy="468.8" r="2.35"/><circle cx="633.9" cy="479.7" r="2.35"/><circle cx="636.1" cy="465.8" r="2.35"/><circle cx="637.6" cy="469.2" r="2.35"/><circle cx="641.5" cy="474.2" r="2.35"/><circle cx="645.9" cy="452.4" r="2.35"/><circle cx="650.7" cy="468.0" r="2.35"/></g>
<text x="533.60" y="459.90" font-size="9" text-anchor="start" font-weight="bold" fill="#000">r = 0.9047</text>
<text x="0.00" y="0.00" font-size="14.1" text-anchor="middle" fill="#000" transform="translate(478.30,491.40) rotate(-90)">Gro Seq1</text>
<text x="532.60" y="579.60" font-size="14.1" text-anchor="start" fill="#000">Nuclear RNA Seq</text>
<line x1="504.80" y1="590.10" x2="509.50" y2="590.10" stroke="#000" stroke-width="1.2"/>
<text x="503.20" y="593.90" font-size="10.5" text-anchor="end" fill="#000">0.4</text>
<line x1="504.80" y1="617.45" x2="509.50" y2="617.45" stroke="#000" stroke-width="1.2"/>
<text x="503.20" y="621.25" font-size="10.5" text-anchor="end" fill="#000">0.2</text>
<line x1="504.80" y1="644.80" x2="509.50" y2="644.80" stroke="#000" stroke-width="1.2"/>
<text x="503.20" y="648.60" font-size="10.5" text-anchor="end" fill="#000">0.0</text>
<line x1="504.80" y1="672.15" x2="509.50" y2="672.15" stroke="#000" stroke-width="1.2"/>
<text x="503.20" y="675.95" font-size="10.5" text-anchor="end" fill="#000">-0.2</text>
<line x1="504.80" y1="699.50" x2="509.50" y2="699.50" stroke="#000" stroke-width="1.2"/>
<text x="503.20" y="703.30" font-size="10.5" text-anchor="end" fill="#000">-0.4</text>
<line x1="509.50" y1="699.50" x2="509.50" y2="704.10" stroke="#000" stroke-width="1.2"/>
<text x="509.50" y="715.90" font-size="10.5" text-anchor="middle" fill="#000">-0.4</text>
<line x1="550.47" y1="699.50" x2="550.47" y2="704.10" stroke="#000" stroke-width="1.2"/>
<text x="550.47" y="715.90" font-size="10.5" text-anchor="middle" fill="#000">-0.2</text>
<line x1="591.44" y1="699.50" x2="591.44" y2="704.10" stroke="#000" stroke-width="1.2"/>
<text x="591.44" y="715.90" font-size="10.5" text-anchor="middle" fill="#000">0.0</text>
<line x1="632.41" y1="699.50" x2="632.41" y2="704.10" stroke="#000" stroke-width="1.2"/>
<text x="632.41" y="715.90" font-size="10.5" text-anchor="middle" fill="#000">0.2</text>
<line x1="673.38" y1="699.50" x2="673.38" y2="704.10" stroke="#000" stroke-width="1.2"/>
<text x="673.38" y="715.90" font-size="10.5" text-anchor="middle" fill="#000">0.4</text>
<rect x="509.5" y="590.10" width="163.90" height="109.40" fill="none" stroke="#111" stroke-width="1.3"/>
<line x1="512.50" y1="644.80" x2="671.40" y2="644.80" stroke="#222" stroke-width="1.1" stroke-dasharray="1.2 2.1"/>
<g fill="#000"><circle cx="527.6" cy="684.5" r="2.35"/><circle cx="538.5" cy="682.5" r="2.35"/><circle cx="536.8" cy="667.2" r="2.35"/><circle cx="543.4" cy="666.7" r="2.35"/><circle cx="542.4" cy="671.7" r="2.35"/><circle cx="543.4" cy="676.7" r="2.35"/><circle cx="545.1" cy="669.7" r="2.35"/><circle cx="547.7" cy="674.1" r="2.35"/><circle cx="550.3" cy="663.8" r="2.35"/><circle cx="550.7" cy="676.3" r="2.35"/><circle cx="553.0" cy="673.3" r="2.35"/><circle cx="556.0" cy="673.3" r="2.35"/><circle cx="558.2" cy="670.1" r="2.35"/><circle cx="558.9" cy="673.3" r="2.35"/><circle cx="560.8" cy="675.7" r="2.35"/><circle cx="562.8" cy="671.1" r="2.35"/><circle cx="564.8" cy="669.1" r="2.35"/><circle cx="565.4" cy="675.0" r="2.35"/><circle cx="561.8" cy="654.9" r="2.35"/><circle cx="565.2" cy="650.7" r="2.35"/><circle cx="569.6" cy="649.6" r="2.35"/><circle cx="569.8" cy="665.4" r="2.35"/><circle cx="578.8" cy="641.5" r="2.35"/><circle cx="578.8" cy="657.9" r="2.35"/><circle cx="585.5" cy="660.8" r="2.35"/><circle cx="591.6" cy="645.6" r="2.35"/><circle cx="593.0" cy="649.0" r="2.35"/><circle cx="596.0" cy="636.8" r="2.35"/><circle cx="597.8" cy="636.1" r="2.35"/><circle cx="602.2" cy="638.7" r="2.35"/><circle cx="604.0" cy="642.7" r="2.35"/><circle cx="606.2" cy="644.9" r="2.35"/><circle cx="606.2" cy="616.8" r="2.35"/><circle cx="609.8" cy="617.4" r="2.35"/><circle cx="609.5" cy="631.4" r="2.35"/><circle cx="610.5" cy="633.9" r="2.35"/><circle cx="614.9" cy="610.5" r="2.35"/><circle cx="615.7" cy="638.6" r="2.35"/><circle cx="618.3" cy="621.8" r="2.35"/><circle cx="622.2" cy="630.5" r="2.35"/><circle cx="622.7" cy="605.0" r="2.35"/><circle cx="622.7" cy="639.7" r="2.35"/><circle cx="623.7" cy="623.2" r="2.35"/><circle cx="625.9" cy="635.8" r="2.35"/><circle cx="628.5" cy="607.2" r="2.35"/><circle cx="629.5" cy="617.4" r="2.35"/><circle cx="630.5" cy="613.9" r="2.35"/><circle cx="630.3" cy="622.7" r="2.35"/><circle cx="631.0" cy="640.8" r="2.35"/><circle cx="632.4" cy="627.6" r="2.35"/><circle cx="635.8" cy="622.7" r="2.35"/><circle cx="635.8" cy="633.2" r="2.35"/><circle cx="640.8" cy="619.3" r="2.35"/><circle cx="642.7" cy="621.5" r="2.35"/><circle cx="641.9" cy="605.9" r="2.35"/></g>
<text x="533.60" y="613.30" font-size="9" text-anchor="start" font-weight="bold" fill="#000">r = 0.9157</text>
<text x="0.00" y="0.00" font-size="14.1" text-anchor="middle" fill="#000" transform="translate(478.30,644.80) rotate(-90)">Gro Seq1</text>
<text x="529.50" y="733.00" font-size="14.1" text-anchor="start" fill="#000">Cytosolic RNA Seq</text>
<defs><filter id="bl1" x="-50%" y="-50%" width="200%" height="200%"><feGaussianBlur stdDeviation="0.9"/></filter><filter id="bl2" x="-50%" y="-50%" width="200%" height="200%"><feGaussianBlur stdDeviation="1.6"/></filter><linearGradient id="gr" x1="0" y1="0" x2="0" y2="1"><stop offset="0" stop-color="#f07040"/><stop offset="1" stop-color="#d42010"/></linearGradient><linearGradient id="gg" x1="0" y1="0" x2="0" y2="1"><stop offset="0" stop-color="#8cc864"/><stop offset="1" stop-color="#5aa03a"/></linearGradient><linearGradient id="gc" x1="0" y1="0" x2="0" y2="1"><stop offset="0" stop-color="#9a9a9a"/><stop offset="1" stop-color="#7e7e7e"/></linearGradient></defs>
<text x="-0.40" y="588.20" font-size="19" text-anchor="start" fill="#000">e</text>
<text x="44.40" y="620.90" font-size="14.1" text-anchor="start" fill="#000">GFP mRNA transfection</text>
<rect x="69.20" y="629.50" width="92.80" height="28.50" fill="#959595" stroke="#1a1a1a" stroke-width="1.2"/>
<rect x="69.20" y="664.10" width="92.80" height="28.50" fill="#989898" stroke="#1a1a1a" stroke-width="1.2"/>
<rect x="75.00" y="644.50" width="13.50" height="2.20" rx="1.10" fill="#444" opacity="0.5" filter="url(#bl1)"/>
<rect x="94.60" y="644.00" width="15.80" height="3.00" rx="1.50" fill="#111" opacity="0.95" filter="url(#bl1)"/>
<rect x="116.40" y="644.80" width="15.10" height="2.00" rx="1.00" fill="#555" opacity="0.4" filter="url(#bl1)"/>
<rect x="137.00" y="643.90" width="15.70" height="2.80" rx="1.40" fill="#111" opacity="0.92" filter="url(#bl1)"/>
<rect x="157.20" y="644.60" width="2.80" height="1.80" rx="0.90" fill="#333" opacity="0.6" filter="url(#bl1)"/>
<rect x="71.90" y="677.55" width="16.10" height="2.70" rx="1.35" fill="#151515" opacity="0.95" filter="url(#bl1)" transform="rotate(-1.5 79.95 678.90)"/>
<rect x="92.30" y="677.15" width="16.60" height="2.70" rx="1.35" fill="#151515" opacity="0.95" filter="url(#bl1)" transform="rotate(-1.5 100.60 678.50)"/>
<rect x="113.00" y="676.45" width="16.80" height="2.70" rx="1.35" fill="#151515" opacity="0.95" filter="url(#bl1)" transform="rotate(-2 121.40 677.80)"/>
<rect x="134.40" y="675.20" width="16.80" height="2.60" rx="1.30" fill="#151515" opacity="0.95" filter="url(#bl1)" transform="rotate(-3 142.80 676.50)"/>
<text x="60.60" y="653.00" font-size="12.3" text-anchor="end" fill="#000">25 kDa</text>
<text x="60.60" y="677.60" font-size="12.3" text-anchor="end" fill="#000">50 kDa</text>
<line x1="64.80" y1="649.30" x2="68.50" y2="649.30" stroke="#000" stroke-width="1.3"/>
<line x1="64.80" y1="674.00" x2="68.50" y2="674.00" stroke="#000" stroke-width="1.3"/>
<text x="171.70" y="648.00" font-size="14.1" text-anchor="start" fill="#000">GFP</text>
<text x="171.70" y="683.30" font-size="14.1" text-anchor="start" fill="#000">Actin</text>
<text x="0.00" y="0.00" font-size="13.8" text-anchor="end" fill="#000" transform="translate(93.80,702.60) rotate(-45)">wt-GFP</text>
<text x="0.00" y="0.00" font-size="13.8" text-anchor="end" fill="#000" transform="translate(117.30,705.60) rotate(-45)">Opt-GFP</text>
<text x="0.00" y="0.00" font-size="13.8" text-anchor="end" fill="#000" transform="translate(139.70,702.60) rotate(-45)">wt-GFP</text>
<text x="0.00" y="0.00" font-size="13.8" text-anchor="end" fill="#000" transform="translate(162.20,704.20) rotate(-45)">Opt-GFP</text>
<text x="241.70" y="588.00" font-size="19" text-anchor="start" fill="#000">f</text>
<line x1="320.40" y1="598.30" x2="326.00" y2="598.30" stroke="#000" stroke-width="1.6"/>
<text x="319.30" y="602.40" font-size="11.6" text-anchor="end" fill="#000">8</text>
<line x1="320.40" y1="630.22" x2="326.00" y2="630.22" stroke="#000" stroke-width="1.6"/>
<text x="319.30" y="634.32" font-size="11.6" text-anchor="end" fill="#000">6</text>
<line x1="320.40" y1="662.15" x2="326.00" y2="662.15" stroke="#000" stroke-width="1.6"/>
<text x="319.30" y="666.25" font-size="11.6" text-anchor="end" fill="#000">4</text>
<line x1="320.40" y1="694.08" x2="326.00" y2="694.08" stroke="#000" stroke-width="1.6"/>
<text x="319.30" y="698.18" font-size="11.6" text-anchor="end" fill="#000">2</text>
<line x1="320.40" y1="726.00" x2="326.00" y2="726.00" stroke="#000" stroke-width="1.6"/>
<text x="319.30" y="730.10" font-size="11.6" text-anchor="end" fill="#000">0</text>
<path d="M326.0 598.3H376.4V726.0" fill="none" stroke="#000" stroke-width="1.6"/>
<rect x="333.60" y="710.04" width="13.10" height="15.96" fill="#d4d4d4" stroke="#000" stroke-width="1.4"/>
<rect x="355.00" y="624.48" width="13.50" height="101.52" fill="#616161" stroke="#000" stroke-width="1.4"/>
<line x1="326.00" y1="598.30" x2="326.00" y2="726.80" stroke="#000" stroke-width="1.6"/>
<line x1="320.40" y1="726.00" x2="377.20" y2="726.00" stroke="#000" stroke-width="1.6"/>
<line x1="340.10" y1="726.00" x2="340.10" y2="731.40" stroke="#000" stroke-width="1.4"/>
<line x1="361.70" y1="726.00" x2="361.70" y2="731.40" stroke="#000" stroke-width="1.4"/>
<line x1="361.70" y1="613.50" x2="361.70" y2="635.40" stroke="#000" stroke-width="1"/>
<line x1="358.10" y1="613.50" x2="365.30" y2="613.50" stroke="#000" stroke-width="1"/>
<line x1="358.10" y1="635.40" x2="365.30" y2="635.40" stroke="#000" stroke-width="1"/>
<circle cx="361.60" cy="606.60" r="1.8" fill="#fff" stroke="#000" stroke-width="0.9"/>
<circle cx="356.50" cy="621.20" r="1.8" fill="#fff" stroke="#000" stroke-width="0.9"/>
<circle cx="366.90" cy="621.90" r="1.8" fill="#fff" stroke="#000" stroke-width="0.9"/>
<circle cx="356.50" cy="629.10" r="1.8" fill="#fff" stroke="#000" stroke-width="0.9"/>
<circle cx="366.90" cy="629.10" r="1.8" fill="#fff" stroke="#000" stroke-width="0.9"/>
<circle cx="361.60" cy="636.10" r="1.8" fill="#fff" stroke="#000" stroke-width="0.9"/>
<circle cx="334.70" cy="707.00" r="1.8" fill="#fff" stroke="#000" stroke-width="0.9"/>
<circle cx="337.70" cy="714.30" r="1.8" fill="#fff" stroke="#000" stroke-width="0.9"/>
<circle cx="340.10" cy="708.50" r="1.8" fill="#fff" stroke="#000" stroke-width="0.9"/>
<circle cx="342.30" cy="710.70" r="1.8" fill="#fff" stroke="#000" stroke-width="0.9"/>
<circle cx="345.50" cy="709.50" r="1.8" fill="#fff" stroke="#000" stroke-width="0.9"/>
<circle cx="337.70" cy="710.00" r="1.8" fill="#fff" stroke="#000" stroke-width="0.9"/>
<text x="0.00" y="0.00" font-size="14" text-anchor="middle" fill="#000" transform="translate(302.30,661.70) rotate(-90)">Relative protein levels</text>
<text x="0.00" y="0.00" font-size="12.3" text-anchor="end" fill="#000" transform="translate(342.60,742.40) rotate(-45)">wt-GFP</text>
<text x="0.00" y="0.00" font-size="12.3" text-anchor="end" fill="#000" transform="translate(364.50,741.70) rotate(-45)">Opt-GFP</text>
<text x="-0.20" y="807.80" font-size="19" text-anchor="start" fill="#000">g</text>
<text x="39.40" y="821.50" font-size="14.1" text-anchor="start" fill="#000">GFP plasmid transfection</text>
<rect x="64.30" y="832.50" width="111.00" height="23.30" fill="#aaaaaa" stroke="#1a1a1a" stroke-width="1.2"/>
<rect x="64.30" y="860.00" width="111.00" height="23.40" fill="#aaaaaa" stroke="#1a1a1a" stroke-width="1.2"/>
<rect x="64.30" y="888.30" width="111.00" height="23.20" fill="#aaaaaa" stroke="#1a1a1a" stroke-width="1.2"/>
<rect x="64.30" y="915.80" width="111.00" height="23.30" fill="#aaaaaa" stroke="#1a1a1a" stroke-width="1.2"/>
<rect x="69.50" y="842.50" width="14.70" height="2.20" rx="1.10" fill="#050505" opacity="1.0" filter="url(#bl0)" transform="rotate(1 76.85 843.60)"/>
<rect x="92.40" y="837.95" width="22.20" height="12.50" rx="5.00" fill="#050505" opacity="1.0" filter="url(#bl1)"/>
<rect x="122.70" y="844.70" width="15.20" height="2.20" rx="1.10" fill="#050505" opacity="1.0" filter="url(#bl0)"/>
<rect x="146.60" y="837.95" width="22.20" height="12.50" rx="5.00" fill="#050505" opacity="1.0" filter="url(#bl1)"/>
<rect x="69.00" y="872.15" width="16.40" height="2.50" rx="1.25" fill="#050505" opacity="1.0" filter="url(#bl0)" transform="rotate(1 77.20 873.40)"/>
<rect x="96.60" y="872.85" width="15.20" height="2.30" rx="1.15" fill="#050505" opacity="1.0" filter="url(#bl0)"/>
<rect x="122.30" y="872.95" width="15.60" height="2.50" rx="1.25" fill="#050505" opacity="1.0" filter="url(#bl0)"/>
<rect x="149.10" y="872.85" width="15.70" height="2.30" rx="1.15" fill="#050505" opacity="1.0" filter="url(#bl0)"/>
<rect x="70.20" y="898.10" width="15.20" height="4.20" rx="2.10" fill="#050505" opacity="1.0" filter="url(#bl0)"/>
<rect x="96.60" y="897.90" width="15.20" height="3.40" rx="1.70" fill="#050505" opacity="1.0" filter="url(#bl0)"/>
<rect x="122.50" y="896.30" width="17.00" height="4.60" rx="2.30" fill="#050505" opacity="1.0" filter="url(#bl0)"/>
<rect x="151.00" y="895.50" width="15.00" height="3.40" rx="1.70" fill="#050505" opacity="1.0" filter="url(#bl0)"/>
<rect x="74.00" y="906.25" width="6.00" height="2.50" rx="1.25" fill="#555" opacity="0.35" filter="url(#bl2)"/>
<rect x="127.00" y="906.00" width="7.00" height="3.00" rx="1.50" fill="#555" opacity="0.4" filter="url(#bl2)"/>
<rect x="69.00" y="930.20" width="15.40" height="2.20" rx="1.10" fill="#050505" opacity="0.95" filter="url(#bl0)"/>
<rect x="96.60" y="929.50" width="15.20" height="2.00" rx="1.00" fill="#050505" opacity="0.9" filter="url(#bl0)" transform="rotate(-1.5 104.20 930.50)"/>
<rect x="122.30" y="928.30" width="15.60" height="2.20" rx="1.10" fill="#050505" opacity="0.95" filter="url(#bl0)" transform="rotate(-1.5 130.10 929.40)"/>
<rect x="149.10" y="927.15" width="16.70" height="2.30" rx="1.15" fill="#050505" opacity="0.95" filter="url(#bl0)" transform="rotate(-2 157.45 928.30)"/>
<text x="56.30" y="852.60" font-size="12.3" text-anchor="end" fill="#000">25 kDa</text>
<line x1="60.40" y1="849.60" x2="64.30" y2="849.60" stroke="#000" stroke-width="1.3"/>
<text x="56.30" y="868.80" font-size="12.3" text-anchor="end" fill="#000">50 kDa</text>
<line x1="60.40" y1="865.70" x2="64.30" y2="865.70" stroke="#000" stroke-width="1.3"/>
<text x="56.30" y="912.90" font-size="12.3" text-anchor="end" fill="#000">25 kDa</text>
<line x1="60.40" y1="910.10" x2="64.30" y2="910.10" stroke="#000" stroke-width="1.3"/>
<text x="56.30" y="925.90" font-size="12.3" text-anchor="end" fill="#000">50 kDa</text>
<line x1="60.40" y1="922.00" x2="64.30" y2="922.00" stroke="#000" stroke-width="1.3"/>
<text x="179.30" y="849.00" font-size="13.6" text-anchor="start" fill="#000">GFP</text>
<text x="179.30" y="875.30" font-size="13.6" text-anchor="start" fill="#000">Actin</text>
<text x="179.30" y="901.10" font-size="13.6" text-anchor="start" fill="#000">mCherry</text>
<text x="178.90" y="931.10" font-size="13.6" text-anchor="start" fill="#000">Actin</text>
<text x="0.00" y="0.00" font-size="13.8" text-anchor="end" fill="#000" transform="translate(81.50,948.70) rotate(-45)">wt-GFP</text>
<text x="0.00" y="0.00" font-size="13.8" text-anchor="end" fill="#000" transform="translate(109.60,949.20) rotate(-45)">Opt-GFP</text>
<text x="0.00" y="0.00" font-size="13.8" text-anchor="end" fill="#000" transform="translate(138.30,948.70) rotate(-45)">wt-GFP</text>
<text x="0.00" y="0.00" font-size="13.8" text-anchor="end" fill="#000" transform="translate(164.00,949.90) rotate(-45)">Opt-GFP</text>
<text x="241.30" y="807.80" font-size="19" text-anchor="start" fill="#000">h</text>
<path d="M312.4 812.8H362.4V940.5" fill="none" stroke="#000" stroke-width="1.5"/>
<line x1="312.40" y1="812.80" x2="312.40" y2="883.90" stroke="#000" stroke-width="1.5"/>
<line x1="312.40" y1="893.40" x2="312.40" y2="940.50" stroke="#000" stroke-width="1.5"/>
<line x1="309.30" y1="883.90" x2="315.30" y2="883.90" stroke="#000" stroke-width="1.5"/>
<line x1="309.30" y1="893.40" x2="315.30" y2="893.40" stroke="#000" stroke-width="1.5"/>
<line x1="307.60" y1="812.80" x2="312.40" y2="812.80" stroke="#000" stroke-width="1.5"/>
<text x="305.40" y="816.90" font-size="11.6" text-anchor="end" fill="#000">60</text>
<line x1="307.60" y1="841.25" x2="312.40" y2="841.25" stroke="#000" stroke-width="1.5"/>
<text x="305.40" y="845.35" font-size="11.6" text-anchor="end" fill="#000">40</text>
<line x1="307.60" y1="869.70" x2="312.40" y2="869.70" stroke="#000" stroke-width="1.5"/>
<text x="305.40" y="873.80" font-size="11.6" text-anchor="end" fill="#000">20</text>
<line x1="307.60" y1="916.95" x2="312.40" y2="916.95" stroke="#000" stroke-width="1.5"/>
<text x="305.40" y="921.05" font-size="11.6" text-anchor="end" fill="#000">2</text>
<line x1="307.60" y1="940.50" x2="312.40" y2="940.50" stroke="#000" stroke-width="1.5"/>
<text x="305.40" y="944.60" font-size="11.6" text-anchor="end" fill="#000">0</text>
<text x="305.40" y="897.50" font-size="11.6" text-anchor="end" fill="#000">4</text>
<rect x="320.10" y="929.08" width="13.30" height="11.42" fill="#d4d4d4" stroke="#000" stroke-width="1.4"/>
<rect x="341.40" y="846.50" width="13.40" height="94.00" fill="#616161" stroke="#000" stroke-width="1.4"/>
<rect x="342.20" y="883.80" width="11.80" height="9.50" fill="#fff"/>
<line x1="307.30" y1="940.50" x2="363.10" y2="940.50" stroke="#000" stroke-width="1.5"/>
<line x1="326.80" y1="940.50" x2="326.80" y2="946.00" stroke="#000" stroke-width="1.4"/>
<line x1="348.10" y1="940.50" x2="348.10" y2="946.00" stroke="#000" stroke-width="1.4"/>
<line x1="348.20" y1="829.20" x2="348.20" y2="861.90" stroke="#000" stroke-width="0.9"/>
<line x1="345.80" y1="829.20" x2="350.60" y2="829.20" stroke="#000" stroke-width="0.9"/>
<circle cx="348.20" cy="829.20" r="1.7" fill="#fff" stroke="#000" stroke-width="0.9"/>
<circle cx="348.20" cy="847.90" r="1.7" fill="#fff" stroke="#000" stroke-width="0.9"/>
<circle cx="348.20" cy="861.90" r="1.7" fill="#fff" stroke="#000" stroke-width="0.9"/>
<circle cx="320.60" cy="926.50" r="1.7" fill="#fff" stroke="#000" stroke-width="0.9"/>
<circle cx="324.50" cy="926.50" r="1.7" fill="#fff" stroke="#000" stroke-width="0.9"/>
<circle cx="329.50" cy="926.50" r="1.7" fill="#fff" stroke="#000" stroke-width="0.9"/>
<circle cx="331.80" cy="926.50" r="1.7" fill="#fff" stroke="#000" stroke-width="0.9"/>
<circle cx="326.80" cy="934.00" r="1.7" fill="#fff" stroke="#000" stroke-width="0.9"/>
<text x="0.00" y="0.00" font-size="14.1" text-anchor="middle" fill="#000" transform="translate(284.30,876.20) rotate(-90)">Relative Protein levels</text>
<text x="0.00" y="0.00" font-size="12.6" text-anchor="end" fill="#000" transform="translate(330.60,955.90) rotate(-45)">wt-GFP</text>
<text x="0.00" y="0.00" font-size="12.6" text-anchor="end" fill="#000" transform="translate(352.20,955.90) rotate(-45)">Opt-GFP</text>
<text x="394.70" y="752.60" font-size="19" text-anchor="start" fill="#000">i</text>
<line x1="410.80" y1="766.60" x2="685.00" y2="766.60" stroke="#000" stroke-width="2.2"/>
<rect x="427.20" y="758.50" width="32.40" height="16.40" fill="url(#gc)"/>
<rect x="459.60" y="758.50" width="78.20" height="16.40" fill="url(#gr)"/>
<rect x="554.40" y="758.60" width="32.20" height="16.10" fill="url(#gc)"/>
<rect x="586.60" y="758.60" width="79.20" height="16.10" fill="url(#gg)"/>
<text x="443.10" y="770.60" font-size="11.4" text-anchor="middle" font-weight="bold" fill="#fff">CMV</text>
<text x="493.20" y="770.80" font-size="11.2" text-anchor="middle" font-weight="bold" fill="#fff">wt-mCherry</text>
<text x="570.50" y="771.00" font-size="11.4" text-anchor="middle" font-weight="bold" fill="#fff">CMV</text>
<text x="623.10" y="771.00" font-size="11.4" text-anchor="middle" font-weight="bold" fill="#fff">Opt-GFP</text>
<path d="M445.1 758.6V752.8Q445.1 746.6 451.3 746.6H470.79999999999995" fill="none" stroke="#000" stroke-width="3.9"/>
<path d="M470.2 741.6L475.4 746.6L470.2 751.6Z" fill="#000"/>
<path d="M571.9 758.6V752.8Q571.9 746.6 578.1 746.6H598.4" fill="none" stroke="#000" stroke-width="3.9"/>
<path d="M597.8 741.6L603.0 746.6L597.8 751.6Z" fill="#000"/>
<text x="399.50" y="786.90" font-size="12.7" text-anchor="start" fill="#000">CAI:</text>
<text x="482.80" y="786.90" font-size="12.2" text-anchor="middle" fill="#000">0.73</text>
<text x="617.20" y="786.10" font-size="12.2" text-anchor="middle" fill="#000">0.96</text>
<text x="395.60" y="807.80" font-size="19" text-anchor="start" fill="#000">j</text>
<text x="501.10" y="805.20" font-size="14.1" text-anchor="start" fill="#000">Nuclear Run-on</text>
<line x1="481.60" y1="814.90" x2="486.80" y2="814.90" stroke="#000" stroke-width="1.5"/>
<text x="479.80" y="819.00" font-size="11.7" text-anchor="end" fill="#000">25</text>
<line x1="481.60" y1="840.36" x2="486.80" y2="840.36" stroke="#000" stroke-width="1.5"/>
<text x="479.80" y="844.46" font-size="11.7" text-anchor="end" fill="#000">20</text>
<line x1="481.60" y1="865.82" x2="486.80" y2="865.82" stroke="#000" stroke-width="1.5"/>
<text x="479.80" y="869.92" font-size="11.7" text-anchor="end" fill="#000">15</text>
<line x1="481.60" y1="891.28" x2="486.80" y2="891.28" stroke="#000" stroke-width="1.5"/>
<text x="479.80" y="895.38" font-size="11.7" text-anchor="end" fill="#000">10</text>
<line x1="481.60" y1="916.74" x2="486.80" y2="916.74" stroke="#000" stroke-width="1.5"/>
<text x="479.80" y="920.84" font-size="11.7" text-anchor="end" fill="#000">5</text>
<line x1="481.60" y1="942.20" x2="486.80" y2="942.20" stroke="#000" stroke-width="1.5"/>
<text x="479.80" y="946.30" font-size="11.7" text-anchor="end" fill="#000">0</text>
<path d="M486.8 814.9H614.5V942.2" fill="none" stroke="#000" stroke-width="1.5"/>
<rect x="495.00" y="843.16" width="15.30" height="99.04" fill="#d4d4d4" stroke="#000" stroke-width="1.4"/>
<rect x="518.80" y="937.87" width="15.40" height="4.33" fill="#d4d4d4" stroke="#000" stroke-width="1.4"/>
<rect x="566.30" y="912.16" width="15.40" height="30.04" fill="#616161" stroke="#000" stroke-width="1.4"/>
<rect x="590.40" y="937.87" width="15.30" height="4.33" fill="#616161" stroke="#000" stroke-width="1.4"/>
<line x1="486.80" y1="814.90" x2="486.80" y2="942.90" stroke="#000" stroke-width="1.5"/>
<line x1="481.60" y1="942.20" x2="615.20" y2="942.20" stroke="#000" stroke-width="1.5"/>
<line x1="502.60" y1="942.20" x2="502.60" y2="947.50" stroke="#000" stroke-width="1.4"/>
<line x1="526.50" y1="942.20" x2="526.50" y2="947.50" stroke="#000" stroke-width="1.4"/>
<line x1="574.00" y1="942.20" x2="574.00" y2="947.50" stroke="#000" stroke-width="1.4"/>
<line x1="598.10" y1="942.20" x2="598.10" y2="947.50" stroke="#000" stroke-width="1.4"/>
<line x1="574.00" y1="907.40" x2="574.00" y2="916.50" stroke="#000" stroke-width="1.0"/>
<line x1="571.60" y1="907.40" x2="576.40" y2="907.40" stroke="#000" stroke-width="1.0"/>
<line x1="502.60" y1="841.00" x2="502.60" y2="846.00" stroke="#000" stroke-width="1.0"/>
<line x1="500.20" y1="841.00" x2="505.00" y2="841.00" stroke="#000" stroke-width="1.0"/>
<circle cx="497.80" cy="844.20" r="2.0" fill="#fff" stroke="#000" stroke-width="1.0"/>
<circle cx="502.60" cy="841.20" r="2.0" fill="#fff" stroke="#000" stroke-width="1.0"/>
<circle cx="507.50" cy="843.40" r="2.0" fill="#fff" stroke="#000" stroke-width="1.0"/>
<circle cx="520.50" cy="937.70" r="2.0" fill="#fff" stroke="#000" stroke-width="1.0"/>
<circle cx="526.60" cy="936.60" r="2.0" fill="#fff" stroke="#000" stroke-width="1.0"/>
<circle cx="532.70" cy="937.30" r="2.0" fill="#fff" stroke="#000" stroke-width="1.0"/>
<circle cx="574.00" cy="907.40" r="2.0" fill="#fff" stroke="#000" stroke-width="1.0"/>
<circle cx="570.50" cy="915.60" r="2.0" fill="#fff" stroke="#000" stroke-width="1.0"/>
<circle cx="578.50" cy="913.50" r="2.0" fill="#fff" stroke="#000" stroke-width="1.0"/>
<circle cx="592.00" cy="937.30" r="2.0" fill="#fff" stroke="#000" stroke-width="1.0"/>
<circle cx="598.10" cy="936.60" r="2.0" fill="#fff" stroke="#000" stroke-width="1.0"/>
<circle cx="604.30" cy="937.30" r="2.0" fill="#fff" stroke="#000" stroke-width="1.0"/>
<rect x="527.90" y="820.80" width="6.60" height="6.60" fill="#d4d4d4" stroke="#000" stroke-width="1.2"/>
<rect x="527.90" y="837.90" width="6.60" height="6.60" fill="#111" stroke="#000" stroke-width="1.2"/>
<text x="541.90" y="827.60" font-size="13.5" text-anchor="start" fill="#000">Input</text>
<text x="541.90" y="845.20" font-size="13.5" text-anchor="start" fill="#000">Nascent</text>
<text x="0.00" y="0.00" font-size="14.1" text-anchor="middle" fill="#000" transform="translate(459.30,872.20) rotate(-90)">Relative RNA levels</text>
<text x="0.00" y="0.00" font-size="12.3" text-anchor="end" fill="#000" transform="translate(504.80,958.10) rotate(-45)">Opt-GFP</text>
<text x="0.00" y="0.00" font-size="12.3" text-anchor="end" fill="#000" transform="translate(530.70,957.30) rotate(-45)">wt-mCherry</text>
<text x="0.00" y="0.00" font-size="12.3" text-anchor="end" fill="#000" transform="translate(577.20,958.00) rotate(-45)">Opt-GFP</text>
<text x="0.00" y="0.00" font-size="12.3" text-anchor="end" fill="#000" transform="translate(603.00,957.30) rotate(-45)">wt-mCherry</text>
</svg>
</body></html>
